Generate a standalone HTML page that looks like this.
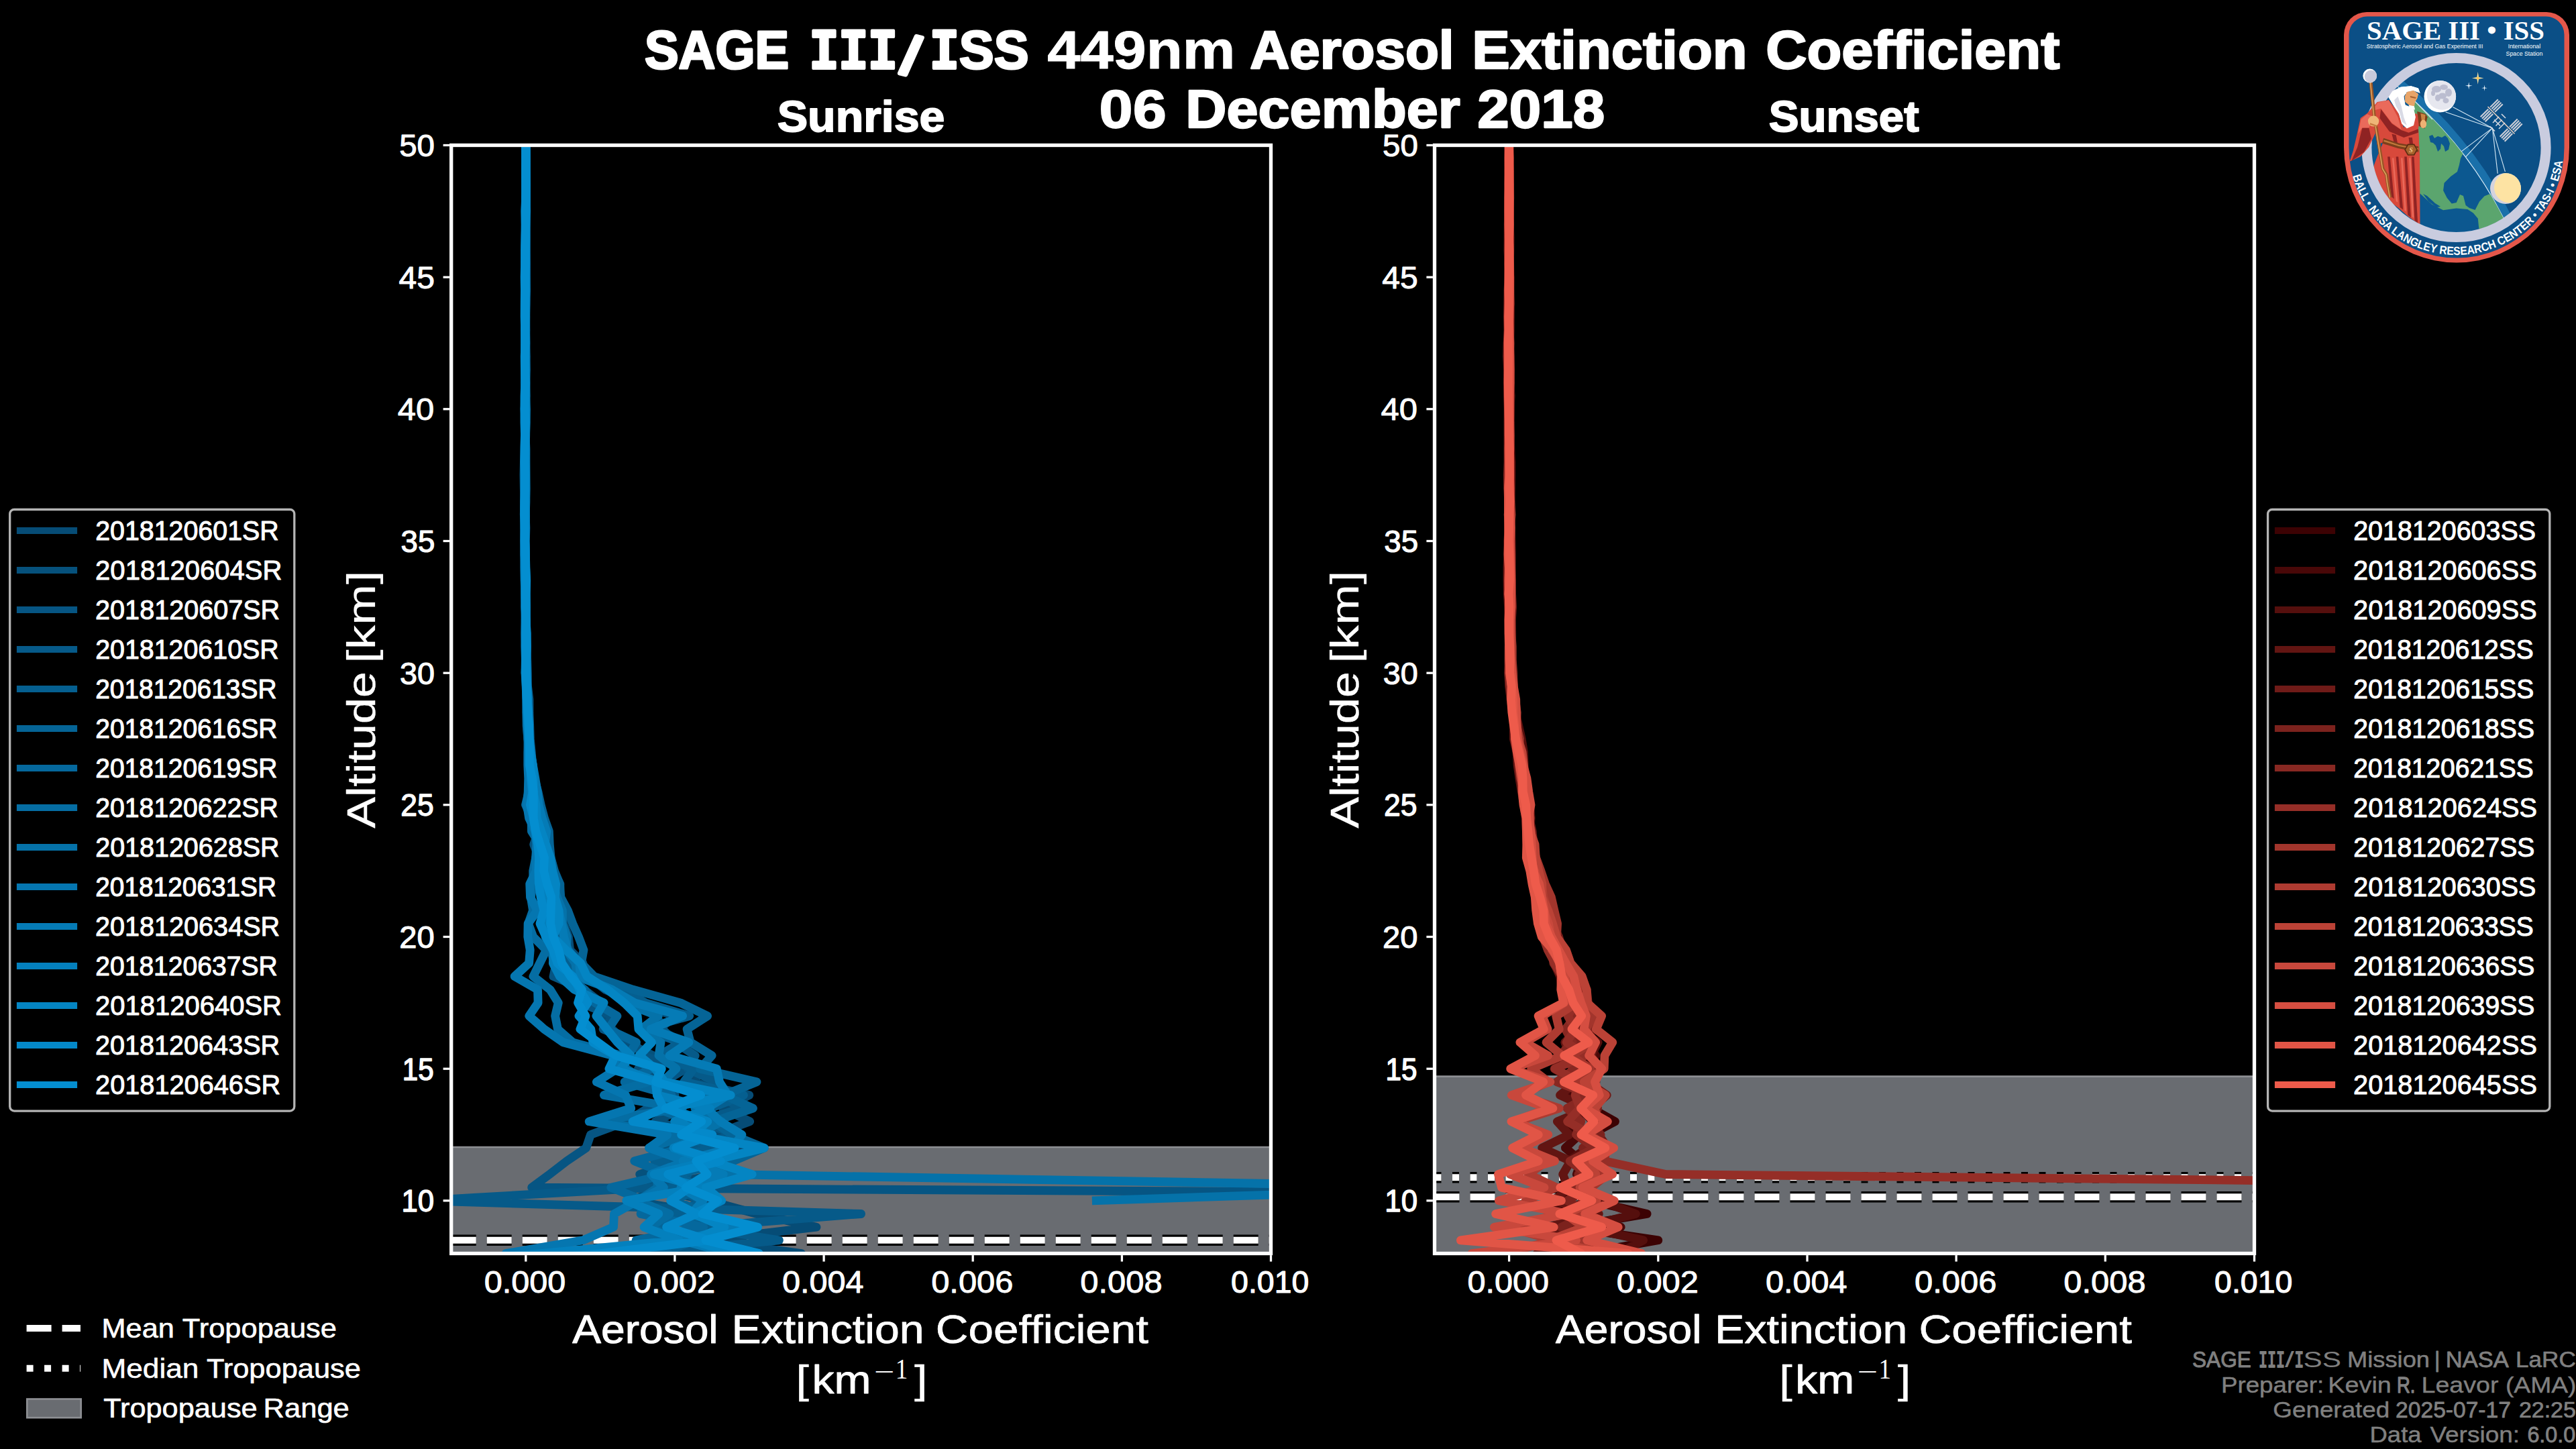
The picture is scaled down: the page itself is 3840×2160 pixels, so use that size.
<!DOCTYPE html>
<html lang="en"><head><meta charset="utf-8"><title>SAGE III/ISS 449nm Aerosol Extinction Coefficient</title>
<style>
html,body{margin:0;padding:0;background:#000;}
body{width:3840px;height:2160px;overflow:hidden;}
svg{display:block;position:absolute;left:0;top:0;}
text{font-family:"Liberation Sans",sans-serif;color:#fff;fill:currentColor;stroke:currentColor;stroke-linejoin:round;white-space:pre;}
#logo text{stroke-width:0;}
.b{font-weight:bold;}
.ft{color:#808080;}
.sf{font-family:"Liberation Serif","DejaVu Serif",serif;}
.mf{font-family:"Liberation Mono","DejaVu Sans Mono",monospace;}
.sp{stroke:#fff;stroke-width:5.33;fill:none;stroke-linecap:square;}
.tick{stroke:#fff;stroke-width:3.3;}
.dl{fill:none;stroke-width:12.8;stroke-linejoin:round;stroke-linecap:round;}
.de{stroke-linecap:butt;}
</style></head><body>
<svg width="3840" height="2160" viewBox="0 0 3840 2160">
<rect x="0" y="0" width="3840" height="2160" fill="#000"/>

<text font-size="80" class="b"><tspan x="961.0" textLength="215.0" lengthAdjust="spacingAndGlyphs" y="102.0" stroke-width="3.21">SAGE</tspan> <tspan x="1206.4" textLength="131.6" lengthAdjust="spacingAndGlyphs" y="102.0" font-size="85" class="mf" stroke-width="4.16">III</tspan><tspan x="1340.5" y="107.5" rotate="13.5" stroke-width="6.00">/</tspan><tspan x="1385.9" textLength="43.8" lengthAdjust="spacingAndGlyphs" y="102.0" font-size="85" class="mf" stroke-width="4.18">I</tspan><tspan x="1429.8" textLength="103.7" lengthAdjust="spacingAndGlyphs" y="102.0" stroke-width="3.03">SS</tspan> <tspan x="1561.3" textLength="280.1" lengthAdjust="spacingAndGlyphs" y="102.0" stroke-width="1.00">449nm</tspan> <tspan x="1863.2" textLength="304.4" lengthAdjust="spacingAndGlyphs" y="102.0" stroke-width="2.62">Aerosol</tspan> <tspan x="2194.2" textLength="410.5" lengthAdjust="spacingAndGlyphs" y="102.0" stroke-width="2.31">Extinction</tspan> <tspan x="2632.2" textLength="438.4" lengthAdjust="spacingAndGlyphs" y="102.0" stroke-width="2.32">Coefficient</tspan></text>
<text font-size="80" class="b"><tspan x="1638.6" textLength="100.2" lengthAdjust="spacingAndGlyphs" y="190.0" stroke-width="1.80">06</tspan> <tspan x="1767.3" textLength="409.4" lengthAdjust="spacingAndGlyphs" y="190.0" stroke-width="2.33">December</tspan> <tspan x="2202.3" textLength="189.8" lengthAdjust="spacingAndGlyphs" y="190.0" stroke-width="2.27">2018</tspan></text>
<text font-size="64" class="b"><tspan x="1158.7" textLength="249.7" lengthAdjust="spacingAndGlyphs" y="196.0" stroke-width="1.83">Sunrise</tspan></text>
<text font-size="64" class="b"><tspan x="2636.7" textLength="223.9" lengthAdjust="spacingAndGlyphs" y="196.0" stroke-width="1.92">Sunset</tspan></text>
<defs>
<clipPath id="clipL"><rect x="672.7" y="216.5" width="1221.8" height="1652.0"/></clipPath>
<clipPath id="clipR"><rect x="2138.5" y="216.5" width="1222.0" height="1652.0"/></clipPath>
</defs>
<g clip-path="url(#clipL)">
<rect x="672.7" y="1710.0" width="1221.8" height="163.5" fill="#696c71"/>
<line x1="672.7" x2="1894.5" y1="1710.0" y2="1710.0" stroke="#8e9094" stroke-width="2.6"/>
<line x1="672.7" x2="1934.5" y1="1848.8" y2="1848.8" stroke="#000" stroke-width="16.6" stroke-dasharray="37 16"/>
<line x1="672.7" x2="1934.5" y1="1848.8" y2="1848.8" stroke="#fff" stroke-width="10" stroke-dasharray="37 16"/>
<polyline class="dl" stroke="#064c76" points="783.3,216.5 783.5,236.2 783.7,255.8 783.8,275.5 783.6,295.2 783.7,314.8 783.5,334.5 783.8,354.2 784.2,373.8 784.5,393.5 784.3,413.2 784.4,432.8 784.2,452.5 783.5,472.2 783.8,491.8 783.1,511.5 783.1,531.2 782.9,550.8 782.3,570.5 783.0,590.2 783.0,609.8 783.1,629.5 782.7,649.2 782.8,668.8 783.0,688.5 783.2,708.2 783.0,727.8 782.6,747.5 782.9,767.2 782.3,786.8 782.7,806.5 783.0,826.2 782.9,845.8 782.6,865.5 783.7,885.2 783.8,904.8 783.1,924.5 782.9,944.2 783.3,963.8 783.6,983.5 783.3,1003.2 784.4,1022.8 785.2,1042.5 785.6,1062.2 785.5,1081.8 786.8,1101.5 789.3,1121.2 790.7,1140.8 792.0,1160.5 793.2,1180.2 796.0,1199.8 800.6,1219.5 808.4,1239.2 815.4,1258.8 821.1,1278.5 825.2,1298.2 835.0,1317.8 834.2,1337.5 844.0,1357.2 840.1,1376.8 847.4,1396.5 849.7,1416.2 869.0,1435.8 868.4,1455.5 923.5,1475.2 945.1,1494.8 1006.1,1514.5 982.5,1534.2 1017.1,1553.8 1000.2,1573.5 1054.5,1593.2 1029.1,1612.8 1116.8,1632.5 1077.4,1652.2 1117.7,1671.8 1065.2,1691.5 1104.6,1711.2 1009.3,1730.8 1070.4,1750.5 967.7,1770.2 1055.5,1789.8 1128.1,1809.5 1217.0,1829.2 1050.3,1848.8 1194.7,1868.5 946.0,1888.2"/>
<polyline class="dl" stroke="#06517c" points="784.5,216.5 784.5,236.2 784.5,255.8 784.2,275.5 784.2,295.2 783.9,314.8 783.5,334.5 783.8,354.2 784.5,373.8 784.5,393.5 783.7,413.2 783.2,432.8 783.5,452.5 783.4,472.2 783.2,491.8 782.9,511.5 783.0,531.2 783.7,550.8 783.2,570.5 783.1,590.2 783.1,609.8 783.3,629.5 783.2,649.2 782.9,668.8 782.5,688.5 782.8,708.2 783.0,727.8 783.3,747.5 782.8,767.2 782.4,786.8 781.9,806.5 782.8,826.2 783.4,845.8 784.0,865.5 783.9,885.2 784.2,904.8 784.5,924.5 784.3,944.2 784.2,963.8 784.8,983.5 785.6,1003.2 785.4,1022.8 786.0,1042.5 786.3,1062.2 786.4,1081.8 787.3,1101.5 788.9,1121.2 791.1,1140.8 792.9,1160.5 792.6,1180.2 794.1,1199.8 798.4,1219.5 803.5,1239.2 810.8,1258.8 811.7,1278.5 811.6,1298.2 812.0,1317.8 814.3,1337.5 817.9,1357.2 819.7,1376.8 827.1,1396.5 835.1,1416.2 829.4,1435.8 852.3,1455.5 870.4,1475.2 896.1,1494.8 895.2,1514.5 912.2,1534.2 933.4,1553.8 973.5,1573.5 951.4,1593.2 983.9,1612.8 994.6,1632.5 1017.4,1652.2 977.0,1671.8 1050.7,1691.5 973.9,1711.2 1013.3,1730.8 953.7,1750.5 984.9,1770.2 942.5,1789.8 1053.3,1809.5 983.5,1829.2 1054.8,1848.8 989.4,1868.5 1036.6,1888.2"/>
<polyline class="dl de" stroke="#065583" points="784.2,216.5 784.3,236.2 784.0,255.8 783.7,275.5 783.5,295.2 783.2,314.8 783.1,334.5 783.1,354.2 783.5,373.8 783.5,393.5 783.3,413.2 783.4,432.8 782.8,452.5 783.3,472.2 783.7,491.8 783.0,511.5 783.6,531.2 783.7,550.8 783.2,570.5 783.5,590.2 783.4,609.8 783.4,629.5 783.2,649.2 783.1,668.8 782.8,688.5 782.8,708.2 782.8,727.8 782.3,747.5 782.4,767.2 782.6,786.8 782.7,806.5 782.5,826.2 782.2,845.8 782.4,865.5 782.4,885.2 782.6,904.8 783.0,924.5 783.2,944.2 784.0,963.8 784.6,983.5 783.5,1003.2 784.3,1022.8 784.9,1042.5 785.4,1062.2 786.9,1081.8 787.6,1101.5 789.2,1121.2 789.7,1140.8 791.7,1160.5 794.0,1180.2 795.4,1199.8 796.4,1219.5 802.5,1239.2 795.7,1258.8 803.4,1278.5 806.6,1298.2 812.9,1317.8 811.8,1337.5 812.0,1357.2 817.0,1376.8 814.8,1396.5 826.2,1416.2 829.2,1435.8 825.0,1455.5 870.0,1475.2 865.2,1494.8 914.0,1514.5 899.1,1534.2 945.7,1553.8 957.3,1573.5 1022.3,1593.2 988.7,1612.8 1006.1,1632.5 965.8,1652.2 933.7,1671.8 880.4,1691.5 873.7,1711.2 844.9,1730.8 819.3,1750.5 792.7,1770.2 4116.0,1789.8"/>
<polyline class="dl" stroke="#065a89" points="783.4,216.5 783.4,236.2 783.5,255.8 783.7,275.5 783.9,295.2 784.3,314.8 784.4,334.5 784.2,354.2 784.2,373.8 784.5,393.5 784.1,413.2 783.8,432.8 784.0,452.5 783.6,472.2 783.7,491.8 784.1,511.5 784.0,531.2 784.4,550.8 783.3,570.5 783.1,590.2 782.7,609.8 782.8,629.5 782.4,649.2 782.2,668.8 782.7,688.5 783.3,708.2 783.2,727.8 783.5,747.5 783.2,767.2 783.9,786.8 783.4,806.5 783.6,826.2 783.6,845.8 784.1,865.5 783.4,885.2 783.8,904.8 784.1,924.5 783.9,944.2 784.9,963.8 785.7,983.5 786.3,1003.2 786.5,1022.8 788.9,1042.5 789.0,1062.2 789.7,1081.8 790.3,1101.5 792.2,1121.2 793.7,1140.8 795.2,1160.5 798.4,1180.2 801.9,1199.8 804.8,1219.5 811.6,1239.2 813.0,1258.8 814.9,1278.5 814.3,1298.2 821.4,1317.8 823.4,1337.5 826.9,1357.2 836.3,1376.8 838.1,1396.5 847.9,1416.2 857.8,1435.8 876.8,1455.5 902.4,1475.2 945.4,1494.8 978.9,1514.5 987.5,1534.2 1006.8,1553.8 1036.2,1573.5 1024.9,1593.2 1067.6,1612.8 1071.2,1632.5 1104.8,1652.2 1042.6,1671.8 1098.2,1691.5 1020.1,1711.2 1049.6,1730.8 1018.4,1750.5 972.6,1770.2 628.3,1789.8 1283.6,1809.5 1039.2,1829.2 1161.4,1848.8 961.5,1868.5 1076.6,1888.2"/>
<polyline class="dl" stroke="#055f90" points="783.7,216.5 783.5,236.2 784.1,255.8 783.9,275.5 783.4,295.2 783.3,314.8 783.4,334.5 783.2,354.2 782.7,373.8 782.7,393.5 783.2,413.2 783.7,432.8 783.4,452.5 783.3,472.2 783.6,491.8 783.2,511.5 783.0,531.2 782.9,550.8 783.3,570.5 783.4,590.2 783.4,609.8 783.2,629.5 783.0,649.2 783.5,668.8 783.1,688.5 783.4,708.2 783.3,727.8 783.1,747.5 783.4,767.2 782.8,786.8 782.8,806.5 782.6,826.2 782.1,845.8 782.1,865.5 782.8,885.2 783.2,904.8 783.3,924.5 782.5,944.2 782.8,963.8 783.5,983.5 784.0,1003.2 784.7,1022.8 785.9,1042.5 785.6,1062.2 786.5,1081.8 787.0,1101.5 790.7,1121.2 794.4,1140.8 795.4,1160.5 795.8,1180.2 799.4,1199.8 804.5,1219.5 810.2,1239.2 812.3,1258.8 815.2,1278.5 822.4,1298.2 823.3,1317.8 820.7,1337.5 825.2,1357.2 823.0,1376.8 826.8,1396.5 832.5,1416.2 848.2,1435.8 860.1,1455.5 928.4,1475.2 962.0,1494.8 1027.7,1514.5 957.1,1534.2 1015.1,1553.8 982.6,1573.5 1034.1,1593.2 1019.5,1612.8 1108.5,1632.5 1058.6,1652.2 1055.9,1671.8 1013.3,1691.5 1067.2,1711.2 975.9,1730.8 1025.1,1750.5 1001.1,1770.2 1047.5,1789.8 1007.2,1809.5 1079.0,1829.2 1013.6,1848.8 1099.4,1868.5 993.9,1888.2"/>
<polyline class="dl" stroke="#056496" points="783.7,216.5 783.5,236.2 783.8,255.8 783.7,275.5 784.2,295.2 784.8,314.8 784.1,334.5 784.0,354.2 783.4,373.8 783.5,393.5 784.0,413.2 784.3,432.8 783.7,452.5 783.6,472.2 783.6,491.8 783.2,511.5 783.8,531.2 783.3,550.8 783.3,570.5 783.1,590.2 782.2,609.8 782.8,629.5 782.5,649.2 782.1,668.8 781.4,688.5 781.0,708.2 781.3,727.8 781.8,747.5 781.3,767.2 782.5,786.8 781.9,806.5 782.2,826.2 783.1,845.8 783.5,865.5 783.2,885.2 783.4,904.8 783.6,924.5 783.8,944.2 783.6,963.8 784.6,983.5 784.4,1003.2 784.8,1022.8 785.6,1042.5 787.5,1062.2 789.1,1081.8 789.5,1101.5 790.8,1121.2 794.2,1140.8 796.6,1160.5 801.9,1180.2 806.2,1199.8 811.4,1219.5 818.4,1239.2 819.3,1258.8 821.1,1278.5 826.5,1298.2 834.5,1317.8 835.8,1337.5 846.4,1357.2 853.7,1376.8 862.5,1396.5 870.0,1416.2 866.5,1435.8 885.6,1455.5 943.8,1475.2 1014.2,1494.8 1054.6,1514.5 1024.1,1534.2 1029.2,1553.8 1061.2,1573.5 1043.5,1593.2 1128.0,1612.8 1079.2,1632.5 1122.5,1652.2 1063.2,1671.8 1091.0,1691.5 1139.2,1711.2 1092.8,1730.8 1006.1,1750.5 1042.4,1770.2 1006.0,1789.8 1053.2,1809.5 980.8,1829.2 1037.1,1848.8 983.7,1868.5 1046.9,1888.2"/>
<polyline class="dl" stroke="#05689d" points="784.3,216.5 783.9,236.2 783.5,255.8 783.4,275.5 783.8,295.2 783.8,314.8 783.8,334.5 783.0,354.2 782.8,373.8 782.6,393.5 782.9,413.2 782.8,432.8 782.7,452.5 783.1,472.2 783.5,491.8 783.5,511.5 784.0,531.2 783.8,550.8 783.8,570.5 783.1,590.2 782.2,609.8 782.8,629.5 782.9,649.2 782.7,668.8 782.5,688.5 782.3,708.2 782.6,727.8 782.4,747.5 782.6,767.2 782.4,786.8 782.6,806.5 782.8,826.2 783.3,845.8 783.9,865.5 783.8,885.2 783.9,904.8 784.4,924.5 784.9,944.2 784.7,963.8 784.5,983.5 784.1,1003.2 785.2,1022.8 785.2,1042.5 784.8,1062.2 785.1,1081.8 786.8,1101.5 787.5,1121.2 788.6,1140.8 788.7,1160.5 791.0,1180.2 791.7,1199.8 799.7,1219.5 804.1,1239.2 804.4,1258.8 806.2,1278.5 808.8,1298.2 815.1,1317.8 812.7,1337.5 822.3,1357.2 814.4,1376.8 819.8,1396.5 822.0,1416.2 825.7,1435.8 841.3,1455.5 871.5,1475.2 886.8,1494.8 920.0,1514.5 906.6,1534.2 948.5,1553.8 936.6,1573.5 970.9,1593.2 931.1,1612.8 1001.0,1632.5 978.8,1652.2 1030.8,1671.8 990.9,1691.5 1018.6,1711.2 945.8,1730.8 995.6,1750.5 910.8,1770.2 960.3,1789.8 955.1,1809.5 1048.7,1829.2 948.1,1848.8 996.7,1868.5 939.7,1888.2"/>
<polyline class="dl" stroke="#056da3" points="783.9,216.5 783.7,236.2 783.5,255.8 783.5,275.5 783.3,295.2 783.5,314.8 783.5,334.5 783.2,354.2 782.7,373.8 782.8,393.5 783.2,413.2 783.2,432.8 783.6,452.5 783.1,472.2 783.3,491.8 783.2,511.5 783.2,531.2 783.0,550.8 782.4,570.5 782.6,590.2 782.6,609.8 782.4,629.5 783.0,649.2 783.0,668.8 783.3,688.5 782.9,708.2 783.4,727.8 782.9,747.5 782.5,767.2 782.1,786.8 781.7,806.5 781.5,826.2 781.8,845.8 782.3,865.5 783.3,885.2 783.1,904.8 783.6,924.5 783.7,944.2 784.1,963.8 785.0,983.5 784.5,1003.2 785.4,1022.8 785.5,1042.5 787.3,1062.2 787.4,1081.8 787.5,1101.5 789.5,1121.2 788.1,1140.8 790.4,1160.5 788.2,1180.2 783.5,1199.8 792.1,1219.5 792.4,1239.2 804.8,1258.8 798.7,1278.5 794.7,1298.2 794.9,1317.8 791.3,1337.5 794.5,1357.2 787.5,1376.8 794.8,1396.5 814.4,1416.2 804.6,1435.8 794.9,1455.5 820.0,1475.2 832.3,1494.8 827.6,1514.5 831.5,1534.2 853.8,1553.8 926.1,1573.5 933.5,1593.2 966.2,1612.8 900.4,1632.5 1017.0,1652.2 883.7,1671.8 1028.1,1691.5 967.7,1711.2 1026.3,1730.8 978.5,1750.5 980.7,1770.2 951.1,1789.8 998.0,1809.5 969.2,1829.2 1008.7,1848.8 827.2,1868.5 893.4,1888.2"/>
<polyline class="dl de" stroke="#0572a9" points="783.5,216.5 783.6,236.2 783.4,255.8 783.5,275.5 783.8,295.2 784.0,314.8 783.5,334.5 783.7,354.2 783.7,373.8 783.6,393.5 783.7,413.2 783.6,432.8 783.2,452.5 783.2,472.2 783.0,491.8 782.8,511.5 783.3,531.2 783.7,550.8 784.0,570.5 784.2,590.2 783.7,609.8 784.0,629.5 783.5,649.2 783.3,668.8 783.2,688.5 783.6,708.2 784.0,727.8 783.9,747.5 783.3,767.2 783.0,786.8 782.6,806.5 783.0,826.2 782.6,845.8 782.9,865.5 783.1,885.2 783.9,904.8 783.7,924.5 784.0,944.2 784.6,963.8 784.6,983.5 785.3,1003.2 785.1,1022.8 786.2,1042.5 786.7,1062.2 787.9,1081.8 788.9,1101.5 791.3,1121.2 793.5,1140.8 795.2,1160.5 796.7,1180.2 797.9,1199.8 802.8,1219.5 808.2,1239.2 811.0,1258.8 814.0,1278.5 823.6,1298.2 824.4,1317.8 830.4,1337.5 838.4,1357.2 838.4,1376.8 845.3,1396.5 844.4,1416.2 857.7,1435.8 860.4,1455.5 912.3,1475.2 930.0,1494.8 981.2,1514.5 955.8,1534.2 985.0,1553.8 982.0,1573.5 1008.0,1593.2 987.3,1612.8 1061.3,1632.5 1036.0,1652.2 1075.6,1671.8 1038.3,1691.5 1087.3,1711.2 1043.9,1730.8 1079.2,1750.5 2227.7,1770.2 1627.9,1789.8"/>
<polyline class="dl" stroke="#0576b0" points="783.7,216.5 784.4,236.2 784.3,255.8 784.1,275.5 784.2,295.2 784.0,314.8 783.9,334.5 783.9,354.2 783.6,373.8 783.8,393.5 783.8,413.2 783.8,432.8 783.5,452.5 783.9,472.2 783.7,491.8 783.7,511.5 783.3,531.2 783.3,550.8 783.2,570.5 783.2,590.2 783.3,609.8 783.7,629.5 783.4,649.2 783.4,668.8 783.3,688.5 783.1,708.2 782.5,727.8 782.5,747.5 782.7,767.2 783.3,786.8 782.7,806.5 783.2,826.2 783.1,845.8 783.1,865.5 782.6,885.2 783.0,904.8 784.1,924.5 784.7,944.2 785.5,963.8 785.3,983.5 785.6,1003.2 785.6,1022.8 786.5,1042.5 787.0,1062.2 786.9,1081.8 787.5,1101.5 786.8,1121.2 786.8,1140.8 787.7,1160.5 787.2,1180.2 785.6,1199.8 788.6,1219.5 798.0,1239.2 799.9,1258.8 798.6,1278.5 799.2,1298.2 789.7,1317.8 790.5,1337.5 801.1,1357.2 787.1,1376.8 786.8,1396.5 790.2,1416.2 788.6,1435.8 767.1,1455.5 801.5,1475.2 802.1,1494.8 788.7,1514.5 811.3,1534.2 839.4,1553.8 913.4,1573.5 920.2,1593.2 889.3,1612.8 932.5,1632.5 940.7,1652.2 878.2,1671.8 994.8,1691.5 967.7,1711.2 1022.7,1730.8 970.6,1750.5 989.5,1770.2 950.5,1789.8 915.5,1809.5 914.5,1829.2 869.1,1848.8 754.0,1868.5 743.6,1888.2"/>
<polyline class="dl" stroke="#057bb6" points="783.9,216.5 783.6,236.2 783.6,255.8 783.7,275.5 783.6,295.2 782.8,314.8 783.2,334.5 783.0,354.2 782.6,373.8 782.7,393.5 783.0,413.2 782.8,432.8 783.4,452.5 783.1,472.2 782.8,491.8 783.1,511.5 782.9,531.2 783.2,550.8 783.4,570.5 783.7,590.2 783.2,609.8 783.3,629.5 783.2,649.2 783.9,668.8 783.9,688.5 784.0,708.2 783.9,727.8 783.5,747.5 782.9,767.2 782.5,786.8 782.5,806.5 782.1,826.2 783.1,845.8 783.1,865.5 783.7,885.2 784.3,904.8 783.8,924.5 784.8,944.2 784.1,963.8 784.0,983.5 784.2,1003.2 785.3,1022.8 786.1,1042.5 787.4,1062.2 788.5,1081.8 789.1,1101.5 791.2,1121.2 794.4,1140.8 797.9,1160.5 801.1,1180.2 803.1,1199.8 808.1,1219.5 814.8,1239.2 812.2,1258.8 815.0,1278.5 823.1,1298.2 825.1,1317.8 824.8,1337.5 833.1,1357.2 837.0,1376.8 840.6,1396.5 846.3,1416.2 863.8,1435.8 864.9,1455.5 912.4,1475.2 945.9,1494.8 1017.6,1514.5 970.0,1534.2 1026.9,1553.8 997.9,1573.5 1068.3,1593.2 1072.6,1612.8 1085.0,1632.5 1053.3,1652.2 1073.8,1671.8 1105.9,1691.5 1091.3,1711.2 1017.9,1730.8 1078.3,1750.5 1015.0,1770.2 1047.9,1789.8 1030.6,1809.5 1097.0,1829.2 1015.8,1848.8 1086.7,1868.5 1006.2,1888.2"/>
<polyline class="dl" stroke="#0480bd" points="783.5,216.5 783.6,236.2 783.6,255.8 783.5,275.5 783.5,295.2 783.3,314.8 783.5,334.5 783.6,354.2 783.4,373.8 783.4,393.5 782.8,413.2 783.1,432.8 783.6,452.5 783.3,472.2 783.4,491.8 783.3,511.5 782.8,531.2 782.9,550.8 783.2,570.5 783.5,590.2 784.4,609.8 784.0,629.5 783.7,649.2 783.3,668.8 783.2,688.5 783.3,708.2 783.3,727.8 783.1,747.5 783.2,767.2 782.8,786.8 782.9,806.5 783.3,826.2 783.2,845.8 783.7,865.5 783.8,885.2 784.3,904.8 783.3,924.5 783.8,944.2 783.2,963.8 783.3,983.5 783.0,1003.2 784.1,1022.8 784.9,1042.5 785.2,1062.2 786.7,1081.8 788.3,1101.5 789.1,1121.2 791.5,1140.8 791.5,1160.5 793.2,1180.2 794.2,1199.8 796.2,1219.5 802.1,1239.2 808.1,1258.8 804.8,1278.5 807.5,1298.2 806.4,1317.8 808.5,1337.5 812.4,1357.2 816.1,1376.8 813.1,1396.5 825.7,1416.2 824.3,1435.8 834.4,1455.5 856.3,1475.2 900.1,1494.8 888.9,1514.5 904.6,1534.2 920.4,1553.8 940.4,1573.5 925.1,1593.2 982.4,1612.8 979.5,1632.5 1058.6,1652.2 1005.6,1671.8 1059.6,1691.5 1004.0,1711.2 1058.0,1730.8 975.0,1750.5 1046.6,1770.2 933.8,1789.8 981.8,1809.5 960.1,1829.2 1012.1,1848.8 806.0,1868.5 561.6,1888.2"/>
<polyline class="dl" stroke="#0485c3" points="784.2,216.5 783.7,236.2 783.8,255.8 783.9,275.5 783.7,295.2 783.9,314.8 783.7,334.5 783.4,354.2 783.1,373.8 783.3,393.5 783.7,413.2 783.9,432.8 783.3,452.5 783.1,472.2 782.8,491.8 783.0,511.5 782.9,531.2 783.0,550.8 783.3,570.5 783.5,590.2 783.2,609.8 783.1,629.5 782.5,649.2 782.5,668.8 782.6,688.5 782.3,708.2 782.2,727.8 783.0,747.5 782.5,767.2 782.2,786.8 781.9,806.5 782.4,826.2 782.4,845.8 782.4,865.5 783.0,885.2 783.6,904.8 784.0,924.5 783.9,944.2 784.1,963.8 783.7,983.5 783.2,1003.2 785.0,1022.8 785.7,1042.5 786.5,1062.2 787.9,1081.8 788.8,1101.5 790.7,1121.2 794.1,1140.8 795.4,1160.5 794.7,1180.2 799.1,1199.8 800.2,1219.5 806.9,1239.2 813.7,1258.8 820.4,1278.5 823.5,1298.2 828.7,1317.8 827.3,1337.5 833.1,1357.2 833.4,1376.8 824.1,1396.5 843.9,1416.2 865.6,1435.8 874.9,1455.5 905.8,1475.2 930.4,1494.8 950.2,1514.5 951.9,1534.2 971.6,1553.8 952.9,1573.5 976.7,1593.2 990.7,1612.8 1089.2,1632.5 995.3,1652.2 1054.9,1671.8 1031.9,1691.5 1139.2,1711.2 1059.9,1730.8 1121.2,1750.5 1052.3,1770.2 1075.7,1789.8 1034.1,1809.5 1079.9,1829.2 1031.8,1848.8 1092.8,1868.5 988.2,1888.2"/>
<polyline class="dl" stroke="#0489ca" points="783.7,216.5 784.0,236.2 784.2,255.8 784.4,275.5 784.2,295.2 784.0,314.8 783.6,334.5 783.6,354.2 782.8,373.8 782.5,393.5 782.1,413.2 782.4,432.8 782.2,452.5 782.1,472.2 782.6,491.8 782.8,511.5 782.6,531.2 782.7,550.8 782.7,570.5 782.0,590.2 781.9,609.8 781.9,629.5 782.5,649.2 783.0,668.8 782.7,688.5 783.3,708.2 782.9,727.8 782.8,747.5 783.1,767.2 783.4,786.8 782.7,806.5 783.4,826.2 783.9,845.8 784.7,865.5 784.2,885.2 783.9,904.8 784.1,924.5 785.2,944.2 785.3,963.8 784.0,983.5 784.7,1003.2 785.9,1022.8 786.6,1042.5 787.2,1062.2 787.9,1081.8 788.9,1101.5 790.5,1121.2 790.3,1140.8 791.7,1160.5 793.9,1180.2 790.4,1199.8 795.4,1219.5 798.1,1239.2 801.8,1258.8 803.5,1278.5 802.8,1298.2 803.4,1317.8 806.0,1337.5 810.8,1357.2 805.0,1376.8 813.9,1396.5 824.0,1416.2 831.0,1435.8 853.8,1455.5 864.0,1475.2 876.1,1494.8 863.0,1514.5 880.8,1534.2 883.9,1553.8 917.4,1573.5 907.9,1593.2 976.9,1612.8 979.4,1632.5 989.5,1652.2 943.1,1671.8 1061.8,1691.5 1007.9,1711.2 1074.4,1730.8 995.7,1750.5 1028.1,1770.2 999.7,1789.8 1038.1,1809.5 993.6,1829.2 1057.3,1848.8 894.8,1868.5 672.7,1888.2"/>
<polyline class="dl" stroke="#048ed0" points="783.8,216.5 783.9,236.2 783.6,255.8 783.8,275.5 783.8,295.2 783.6,314.8 783.5,334.5 783.5,354.2 783.3,373.8 783.3,393.5 782.7,413.2 782.6,432.8 782.6,452.5 782.7,472.2 782.5,491.8 782.9,511.5 782.2,531.2 782.4,550.8 783.3,570.5 782.5,590.2 782.3,609.8 783.3,629.5 782.4,649.2 782.0,668.8 781.8,688.5 782.3,708.2 782.4,727.8 781.6,747.5 781.6,767.2 781.8,786.8 782.5,806.5 783.0,826.2 783.6,845.8 784.0,865.5 783.7,885.2 783.2,904.8 783.8,924.5 783.8,944.2 783.6,963.8 783.9,983.5 784.0,1003.2 784.5,1022.8 785.3,1042.5 787.1,1062.2 788.5,1081.8 789.0,1101.5 789.3,1121.2 789.3,1140.8 793.3,1160.5 795.4,1180.2 795.4,1199.8 795.2,1219.5 798.7,1239.2 805.0,1258.8 811.6,1278.5 810.6,1298.2 815.5,1317.8 821.8,1337.5 821.2,1357.2 820.6,1376.8 824.6,1396.5 832.9,1416.2 837.6,1435.8 850.5,1455.5 867.4,1475.2 861.5,1494.8 872.9,1514.5 864.9,1534.2 891.5,1553.8 918.1,1573.5 986.3,1593.2 977.5,1612.8 1044.6,1632.5 992.3,1652.2 1045.8,1671.8 1015.6,1691.5 1095.1,1711.2 1037.8,1730.8 1054.2,1750.5 1022.5,1770.2 1069.9,1789.8 1047.0,1809.5 1129.6,1829.2 1051.8,1848.8 1131.5,1868.5 1025.3,1888.2"/>
</g>
<rect class="sp" x="672.7" y="216.5" width="1221.8" height="1652.0"/>
<line class="tick" x1="660.6" x2="670.1" y1="216.5" y2="216.5"/>
<text font-size="46.67"><tspan x="595.2" textLength="52.8" lengthAdjust="spacingAndGlyphs" y="233.1" stroke-width="1.04">50</tspan></text>
<line class="tick" x1="660.6" x2="670.1" y1="413.2" y2="413.2"/>
<text font-size="46.67"><tspan x="594.5" textLength="53.5" lengthAdjust="spacingAndGlyphs" y="429.8" stroke-width="0.98">45</tspan></text>
<line class="tick" x1="660.6" x2="670.1" y1="609.8" y2="609.8"/>
<text font-size="46.67"><tspan x="592.7" textLength="54.5" lengthAdjust="spacingAndGlyphs" y="626.4" stroke-width="0.89">40</tspan></text>
<line class="tick" x1="660.6" x2="670.1" y1="806.5" y2="806.5"/>
<text font-size="46.67"><tspan x="597.5" textLength="50.8" lengthAdjust="spacingAndGlyphs" y="823.1" stroke-width="1.22">35</tspan></text>
<line class="tick" x1="660.6" x2="670.1" y1="1003.2" y2="1003.2"/>
<text font-size="46.67"><tspan x="595.9" textLength="52.0" lengthAdjust="spacingAndGlyphs" y="1019.8" stroke-width="1.11">30</tspan></text>
<line class="tick" x1="660.6" x2="670.1" y1="1199.8" y2="1199.8"/>
<text font-size="46.67"><tspan x="597.3" textLength="49.5" lengthAdjust="spacingAndGlyphs" y="1216.4" stroke-width="1.34">25</tspan></text>
<line class="tick" x1="660.6" x2="670.1" y1="1396.5" y2="1396.5"/>
<text font-size="46.67"><tspan x="595.2" textLength="52.4" lengthAdjust="spacingAndGlyphs" y="1413.1" stroke-width="1.08">20</tspan></text>
<line class="tick" x1="660.6" x2="670.1" y1="1593.2" y2="1593.2"/>
<text font-size="46.67"><tspan x="599.8" textLength="46.9" lengthAdjust="spacingAndGlyphs" y="1609.8" stroke-width="1.57">15</tspan></text>
<line class="tick" x1="660.6" x2="670.1" y1="1789.8" y2="1789.8"/>
<text font-size="46.67"><tspan x="598.5" textLength="48.7" lengthAdjust="spacingAndGlyphs" y="1806.4" stroke-width="1.41">10</tspan></text>
<line class="tick" x1="783.8" x2="783.8" y1="1871.1" y2="1880.6"/>
<text font-size="46.67"><tspan x="721.8" textLength="121.5" lengthAdjust="spacingAndGlyphs" y="1926.6" stroke-width="0.93">0.000</tspan></text>
<line class="tick" x1="1005.9" x2="1005.9" y1="1871.1" y2="1880.6"/>
<text font-size="46.67"><tspan x="943.9" textLength="122.3" lengthAdjust="spacingAndGlyphs" y="1926.6" stroke-width="0.90">0.002</tspan></text>
<line class="tick" x1="1228.1" x2="1228.1" y1="1871.1" y2="1880.6"/>
<text font-size="46.67"><tspan x="1166.0" textLength="121.5" lengthAdjust="spacingAndGlyphs" y="1926.6" stroke-width="0.93">0.004</tspan></text>
<line class="tick" x1="1450.2" x2="1450.2" y1="1871.1" y2="1880.6"/>
<text font-size="46.67"><tspan x="1388.2" textLength="122.3" lengthAdjust="spacingAndGlyphs" y="1926.6" stroke-width="0.90">0.006</tspan></text>
<line class="tick" x1="1672.4" x2="1672.4" y1="1871.1" y2="1880.6"/>
<text font-size="46.67"><tspan x="1610.3" textLength="122.3" lengthAdjust="spacingAndGlyphs" y="1926.6" stroke-width="0.90">0.008</tspan></text>
<line class="tick" x1="1894.5" x2="1894.5" y1="1871.1" y2="1880.6"/>
<text font-size="46.67"><tspan x="1835.1" textLength="116.2" lengthAdjust="spacingAndGlyphs" y="1926.6" stroke-width="1.14">0.010</tspan></text>
<text font-size="60"><tspan x="853.3" textLength="217.3" lengthAdjust="spacingAndGlyphs" y="2002.2" stroke-width="1.03">Aerosol</tspan> <tspan x="1090.5" textLength="287.1" lengthAdjust="spacingAndGlyphs" y="2002.2" stroke-width="0.82">Extinction</tspan> <tspan x="1394.8" textLength="317.3" lengthAdjust="spacingAndGlyphs" y="2002.2" stroke-width="0.70">Coefficient</tspan></text>
<text font-size="60"><tspan x="1186.2" textLength="19.7" lengthAdjust="spacingAndGlyphs" y="2076.7" stroke-width="0.35">[</tspan><tspan x="1210.5" textLength="87.9" lengthAdjust="spacingAndGlyphs" y="2076.7" stroke-width="0.84">km</tspan><tspan x="1303.0" textLength="30.4" lengthAdjust="spacingAndGlyphs" y="2058.7" font-size="42" class="sf" stroke-width="0.00">−</tspan><tspan x="1334.8" textLength="18.5" lengthAdjust="spacingAndGlyphs" y="2055.0" font-size="42" class="sf" stroke-width="0.00">1</tspan><tspan x="1363.0" textLength="19.7" lengthAdjust="spacingAndGlyphs" y="2076.7" stroke-width="0.35">]</tspan></text>
<text font-size="60" transform="translate(559.0,1234.8) rotate(-90)"><tspan x="0.0" textLength="233.8" lengthAdjust="spacingAndGlyphs" y="0.0" stroke-width="0.43">Altitude</tspan> <tspan x="246.2" textLength="137.9" lengthAdjust="spacingAndGlyphs" y="0.0" stroke-width="0.14">[km]</tspan></text>
<g clip-path="url(#clipR)">
<rect x="2138.5" y="1604.6" width="1222.0" height="268.9" fill="#696c71"/>
<line x1="2138.5" x2="3360.5" y1="1604.6" y2="1604.6" stroke="#8e9094" stroke-width="2.6"/>
<line x1="2138.5" x2="3400.5" y1="1784.3" y2="1784.3" stroke="#000" stroke-width="16.6" stroke-dasharray="37 16"/>
<line x1="2138.5" x2="3400.5" y1="1784.3" y2="1784.3" stroke="#fff" stroke-width="10" stroke-dasharray="37 16"/>
<line x1="2138.5" x2="3400.5" y1="1755.2" y2="1755.2" stroke="#000" stroke-width="16.6" stroke-dasharray="10 16.5"/>
<line x1="2138.5" x2="3400.5" y1="1755.2" y2="1755.2" stroke="#fff" stroke-width="10" stroke-dasharray="10 16.5"/>
<polyline class="dl" stroke="#3c0203" points="2249.1,216.5 2249.9,236.2 2250.1,255.8 2250.0,275.5 2249.8,295.2 2250.0,314.8 2249.7,334.5 2250.1,354.2 2250.1,373.8 2250.6,393.5 2251.4,413.2 2250.8,432.8 2250.3,452.5 2250.3,472.2 2249.7,491.8 2250.4,511.5 2249.7,531.2 2250.2,550.8 2250.3,570.5 2251.5,590.2 2251.6,609.8 2251.0,629.5 2250.9,649.2 2252.2,668.8 2253.2,688.5 2253.0,708.2 2252.6,727.8 2252.1,747.5 2252.2,767.2 2251.7,786.8 2249.7,806.5 2248.5,826.2 2249.0,845.8 2249.9,865.5 2250.3,885.2 2250.2,904.8 2250.5,924.5 2249.7,944.2 2250.6,963.8 2252.7,983.5 2253.0,1003.2 2255.7,1022.8 2257.5,1042.5 2260.7,1062.2 2261.9,1081.8 2264.2,1101.5 2264.8,1121.2 2269.8,1140.8 2273.5,1160.5 2274.9,1180.2 2277.7,1199.8 2278.2,1219.5 2282.4,1239.2 2284.3,1258.8 2286.1,1278.5 2292.0,1298.2 2297.4,1317.8 2300.3,1337.5 2304.6,1357.2 2311.6,1376.8 2315.6,1396.5 2326.0,1416.2 2333.6,1435.8 2349.0,1455.5 2355.1,1475.2 2357.3,1494.8 2366.8,1514.5 2355.0,1534.2 2367.5,1553.8 2343.0,1573.5 2385.6,1593.2 2353.5,1612.8 2394.2,1632.5 2372.2,1652.2 2407.5,1671.8 2370.1,1691.5 2384.0,1711.2 2364.2,1730.8 2364.6,1750.5 2360.3,1770.2 2369.5,1789.8 2455.1,1809.5 2338.5,1829.2 2471.8,1848.8 2360.7,1868.5 2258.8,1888.2"/>
<polyline class="dl" stroke="#490808" points="2249.7,216.5 2249.5,236.2 2249.3,255.8 2249.5,275.5 2249.3,295.2 2249.1,314.8 2249.9,334.5 2249.7,354.2 2250.1,373.8 2249.7,393.5 2249.6,413.2 2250.2,432.8 2251.6,452.5 2251.4,472.2 2251.0,491.8 2250.4,511.5 2250.8,531.2 2251.2,550.8 2251.1,570.5 2250.8,590.2 2250.2,609.8 2249.6,629.5 2250.0,649.2 2250.4,668.8 2250.2,688.5 2248.7,708.2 2250.1,727.8 2249.8,747.5 2249.8,767.2 2250.4,786.8 2250.2,806.5 2249.2,826.2 2250.4,845.8 2249.9,865.5 2249.4,885.2 2249.3,904.8 2249.0,924.5 2250.6,944.2 2251.3,963.8 2249.9,983.5 2250.8,1003.2 2253.9,1022.8 2255.1,1042.5 2258.3,1062.2 2259.7,1081.8 2261.1,1101.5 2265.3,1121.2 2266.1,1140.8 2267.2,1160.5 2272.6,1180.2 2276.1,1199.8 2280.4,1219.5 2283.6,1239.2 2285.0,1258.8 2286.2,1278.5 2292.7,1298.2 2293.3,1317.8 2299.4,1337.5 2305.0,1357.2 2309.7,1376.8 2315.2,1396.5 2324.9,1416.2 2328.9,1435.8 2336.4,1455.5 2341.4,1475.2 2351.8,1494.8 2354.2,1514.5 2375.0,1534.2 2363.5,1553.8 2378.9,1573.5 2348.1,1593.2 2362.8,1612.8 2342.3,1632.5 2372.2,1652.2 2336.2,1671.8 2354.4,1691.5 2333.4,1711.2 2357.0,1730.8 2350.3,1750.5 2370.4,1770.2 2307.8,1789.8 2355.8,1809.5 2416.2,1829.2 2349.6,1848.8 2427.3,1868.5 2399.9,1888.2"/>
<polyline class="dl" stroke="#550f0d" points="2249.3,216.5 2249.1,236.2 2249.0,255.8 2249.2,275.5 2249.4,295.2 2249.6,314.8 2250.1,334.5 2250.0,354.2 2250.2,373.8 2250.0,393.5 2250.8,413.2 2250.5,432.8 2250.3,452.5 2250.7,472.2 2250.0,491.8 2249.9,511.5 2250.0,531.2 2250.0,550.8 2249.7,570.5 2249.8,590.2 2249.3,609.8 2249.2,629.5 2249.6,649.2 2250.3,668.8 2249.9,688.5 2249.3,708.2 2249.4,727.8 2249.6,747.5 2249.8,767.2 2250.2,786.8 2250.6,806.5 2251.0,826.2 2252.4,845.8 2251.4,865.5 2251.3,885.2 2250.3,904.8 2249.4,924.5 2249.8,944.2 2250.6,963.8 2252.4,983.5 2253.2,1003.2 2255.1,1022.8 2257.7,1042.5 2259.2,1062.2 2263.8,1081.8 2268.2,1101.5 2271.5,1121.2 2272.2,1140.8 2274.0,1160.5 2275.8,1180.2 2280.6,1199.8 2282.2,1219.5 2280.9,1239.2 2280.7,1258.8 2286.2,1278.5 2290.0,1298.2 2296.2,1317.8 2300.1,1337.5 2301.9,1357.2 2308.3,1376.8 2311.5,1396.5 2318.1,1416.2 2328.3,1435.8 2336.6,1455.5 2349.3,1475.2 2357.2,1494.8 2366.2,1514.5 2354.6,1534.2 2382.0,1553.8 2371.9,1573.5 2384.9,1593.2 2355.1,1612.8 2379.0,1632.5 2355.4,1652.2 2374.5,1671.8 2362.9,1691.5 2366.8,1711.2 2337.5,1730.8 2371.6,1750.5 2354.1,1770.2 2384.2,1789.8 2438.4,1809.5 2360.7,1829.2 2449.6,1848.8 2412.9,1868.5 2347.7,1888.2"/>
<polyline class="dl" stroke="#621512" points="2249.5,216.5 2249.6,236.2 2249.9,255.8 2249.9,275.5 2250.3,295.2 2250.3,314.8 2250.2,334.5 2251.1,354.2 2250.8,373.8 2250.4,393.5 2249.4,413.2 2249.3,432.8 2249.7,452.5 2249.6,472.2 2249.4,491.8 2248.7,511.5 2248.8,531.2 2249.4,550.8 2249.3,570.5 2249.8,590.2 2250.1,609.8 2249.4,629.5 2250.2,649.2 2250.2,668.8 2248.7,688.5 2249.8,708.2 2250.0,727.8 2249.7,747.5 2250.0,767.2 2249.2,786.8 2247.8,806.5 2247.8,826.2 2247.0,845.8 2247.0,865.5 2247.3,885.2 2248.5,904.8 2248.9,924.5 2249.1,944.2 2251.0,963.8 2249.9,983.5 2248.8,1003.2 2249.6,1022.8 2252.0,1042.5 2255.1,1062.2 2256.4,1081.8 2256.4,1101.5 2261.0,1121.2 2262.1,1140.8 2265.0,1160.5 2268.2,1180.2 2271.8,1199.8 2274.4,1219.5 2275.3,1239.2 2280.7,1258.8 2283.4,1278.5 2285.0,1298.2 2289.2,1317.8 2295.8,1337.5 2300.5,1357.2 2299.8,1376.8 2306.6,1396.5 2312.7,1416.2 2316.6,1435.8 2325.7,1455.5 2328.2,1475.2 2335.2,1494.8 2339.1,1514.5 2352.7,1534.2 2332.8,1553.8 2339.9,1573.5 2316.9,1593.2 2350.1,1612.8 2325.5,1632.5 2368.2,1652.2 2321.4,1671.8 2339.2,1691.5 2298.7,1711.2 2341.2,1730.8 2329.7,1750.5 2337.0,1770.2 2317.6,1789.8 2383.3,1809.5 2306.5,1829.2 2371.5,1848.8 2291.3,1868.5 2333.9,1888.2"/>
<polyline class="dl" stroke="#6f1b18" points="2249.5,216.5 2249.8,236.2 2249.9,255.8 2250.1,275.5 2250.0,295.2 2249.4,314.8 2249.6,334.5 2250.1,354.2 2249.5,373.8 2250.0,393.5 2250.1,413.2 2250.7,432.8 2250.9,452.5 2251.0,472.2 2251.0,491.8 2250.7,511.5 2250.2,531.2 2250.5,550.8 2250.9,570.5 2252.1,590.2 2251.2,609.8 2251.1,629.5 2251.5,649.2 2250.7,668.8 2252.0,688.5 2252.3,708.2 2252.3,727.8 2251.8,747.5 2252.0,767.2 2252.4,786.8 2253.1,806.5 2253.4,826.2 2253.2,845.8 2253.6,865.5 2253.6,885.2 2254.7,904.8 2253.4,924.5 2253.7,944.2 2253.6,963.8 2253.8,983.5 2254.8,1003.2 2256.4,1022.8 2257.0,1042.5 2259.3,1062.2 2259.6,1081.8 2261.1,1101.5 2263.9,1121.2 2265.6,1140.8 2272.3,1160.5 2277.2,1180.2 2275.6,1199.8 2279.4,1219.5 2284.2,1239.2 2286.0,1258.8 2288.0,1278.5 2295.9,1298.2 2300.7,1317.8 2304.6,1337.5 2312.0,1357.2 2313.5,1376.8 2323.7,1396.5 2329.1,1416.2 2339.9,1435.8 2350.3,1455.5 2355.0,1475.2 2366.5,1494.8 2366.9,1514.5 2355.3,1534.2 2376.6,1553.8 2371.6,1573.5 2383.7,1593.2 2366.5,1612.8 2395.3,1632.5 2371.9,1652.2 2381.5,1671.8 2382.9,1691.5 2396.6,1711.2 2368.5,1730.8 2379.9,1750.5 2333.6,1770.2 2372.5,1789.8 2355.4,1809.5 2371.3,1829.2 2308.0,1848.8 2385.3,1868.5 2326.1,1888.2"/>
<polyline class="dl" stroke="#7c221d" points="2249.6,216.5 2249.8,236.2 2249.8,255.8 2250.0,275.5 2249.8,295.2 2250.1,314.8 2250.1,334.5 2250.0,354.2 2250.1,373.8 2249.8,393.5 2249.8,413.2 2250.4,432.8 2250.1,452.5 2250.5,472.2 2250.1,491.8 2250.2,511.5 2251.2,531.2 2250.5,550.8 2249.7,570.5 2250.3,590.2 2249.9,609.8 2250.0,629.5 2250.2,649.2 2250.5,668.8 2250.4,688.5 2250.9,708.2 2250.6,727.8 2250.9,747.5 2250.9,767.2 2251.1,786.8 2251.0,806.5 2250.6,826.2 2249.9,845.8 2248.3,865.5 2249.4,885.2 2249.0,904.8 2250.1,924.5 2250.0,944.2 2250.7,963.8 2250.7,983.5 2252.2,1003.2 2254.8,1022.8 2257.2,1042.5 2258.5,1062.2 2261.2,1081.8 2264.4,1101.5 2267.4,1121.2 2270.3,1140.8 2271.4,1160.5 2273.9,1180.2 2276.9,1199.8 2277.8,1219.5 2278.3,1239.2 2283.1,1258.8 2287.2,1278.5 2291.3,1298.2 2297.2,1317.8 2301.9,1337.5 2304.9,1357.2 2310.3,1376.8 2310.5,1396.5 2321.0,1416.2 2333.7,1435.8 2337.6,1455.5 2343.4,1475.2 2352.6,1494.8 2357.6,1514.5 2370.0,1534.2 2345.7,1553.8 2359.2,1573.5 2350.7,1593.2 2379.1,1612.8 2349.4,1632.5 2381.7,1652.2 2372.8,1671.8 2386.1,1691.5 2359.5,1711.2 2374.1,1730.8 2352.8,1750.5 2370.2,1770.2 2335.9,1789.8 2369.9,1809.5 2327.4,1829.2 2377.1,1848.8 2346.5,1868.5 2373.1,1888.2"/>
<polyline class="dl" stroke="#882822" points="2249.4,216.5 2248.5,236.2 2248.8,255.8 2249.2,275.5 2248.6,295.2 2248.6,314.8 2248.3,334.5 2248.2,354.2 2248.1,373.8 2248.8,393.5 2248.8,413.2 2248.1,432.8 2247.9,452.5 2247.6,472.2 2248.0,491.8 2247.1,511.5 2246.7,531.2 2247.5,550.8 2247.4,570.5 2247.7,590.2 2248.2,609.8 2248.1,629.5 2248.1,649.2 2248.1,668.8 2248.1,688.5 2247.5,708.2 2247.8,727.8 2248.7,747.5 2250.1,767.2 2249.8,786.8 2250.9,806.5 2251.5,826.2 2250.4,845.8 2249.0,865.5 2249.5,885.2 2249.6,904.8 2250.3,924.5 2251.2,944.2 2249.2,963.8 2249.0,983.5 2248.8,1003.2 2250.7,1022.8 2253.2,1042.5 2255.7,1062.2 2257.0,1081.8 2258.6,1101.5 2263.6,1121.2 2266.9,1140.8 2268.7,1160.5 2273.8,1180.2 2272.4,1199.8 2275.2,1219.5 2277.0,1239.2 2277.9,1258.8 2280.8,1278.5 2284.4,1298.2 2290.9,1317.8 2296.5,1337.5 2299.3,1357.2 2304.4,1376.8 2312.4,1396.5 2314.0,1416.2 2315.9,1435.8 2329.6,1455.5 2340.2,1475.2 2345.3,1494.8 2348.8,1514.5 2333.6,1534.2 2344.1,1553.8 2325.2,1573.5 2347.9,1593.2 2320.9,1612.8 2371.4,1632.5 2336.1,1652.2 2356.7,1671.8 2349.6,1691.5 2377.6,1711.2 2340.2,1730.8 2365.9,1750.5 2340.7,1770.2 2362.8,1789.8 2336.7,1809.5 2356.8,1829.2 2319.9,1848.8 2337.1,1868.5 2319.1,1888.2"/>
<polyline class="dl de" stroke="#952e27" points="2248.8,216.5 2249.0,236.2 2249.3,255.8 2250.2,275.5 2249.9,295.2 2249.9,314.8 2249.6,334.5 2249.7,354.2 2249.1,373.8 2249.4,393.5 2249.9,413.2 2248.8,432.8 2249.0,452.5 2249.4,472.2 2249.6,491.8 2249.7,511.5 2249.0,531.2 2249.1,550.8 2248.8,570.5 2249.6,590.2 2249.9,609.8 2250.3,629.5 2250.0,649.2 2250.2,668.8 2250.9,688.5 2250.8,708.2 2250.6,727.8 2249.3,747.5 2249.8,767.2 2249.8,786.8 2251.2,806.5 2250.6,826.2 2250.8,845.8 2250.6,865.5 2251.3,885.2 2251.4,904.8 2251.5,924.5 2252.0,944.2 2251.5,963.8 2252.5,983.5 2253.1,1003.2 2255.1,1022.8 2255.4,1042.5 2256.8,1062.2 2258.2,1081.8 2260.8,1101.5 2266.1,1121.2 2269.2,1140.8 2273.3,1160.5 2276.5,1180.2 2276.7,1199.8 2276.7,1219.5 2275.6,1239.2 2276.2,1258.8 2278.0,1278.5 2286.6,1298.2 2290.9,1317.8 2291.6,1337.5 2293.6,1357.2 2297.7,1376.8 2300.2,1396.5 2307.4,1416.2 2317.7,1435.8 2328.3,1455.5 2341.2,1475.2 2348.9,1494.8 2337.1,1514.5 2348.1,1534.2 2335.2,1553.8 2363.2,1573.5 2317.8,1593.2 2354.1,1612.8 2348.1,1632.5 2355.3,1652.2 2336.6,1671.8 2371.8,1691.5 2394.0,1711.2 2391.8,1730.8 2482.9,1750.5 4393.6,1770.2"/>
<polyline class="dl" stroke="#a2352c" points="2249.6,216.5 2249.6,236.2 2249.7,255.8 2249.8,275.5 2250.0,295.2 2249.5,314.8 2249.0,334.5 2249.4,354.2 2249.1,373.8 2248.5,393.5 2249.2,413.2 2249.2,432.8 2250.0,452.5 2249.4,472.2 2250.1,491.8 2251.1,511.5 2250.7,531.2 2251.2,550.8 2250.7,570.5 2250.5,590.2 2250.0,609.8 2250.3,629.5 2249.8,649.2 2250.2,668.8 2250.5,688.5 2250.2,708.2 2251.5,727.8 2251.9,747.5 2253.1,767.2 2251.6,786.8 2250.5,806.5 2250.7,826.2 2250.6,845.8 2251.7,865.5 2251.0,885.2 2252.3,904.8 2252.8,924.5 2252.9,944.2 2254.3,963.8 2254.3,983.5 2255.7,1003.2 2256.3,1022.8 2257.1,1042.5 2258.5,1062.2 2260.7,1081.8 2265.4,1101.5 2263.8,1121.2 2268.8,1140.8 2270.6,1160.5 2273.6,1180.2 2276.1,1199.8 2278.7,1219.5 2282.1,1239.2 2284.9,1258.8 2289.6,1278.5 2296.9,1298.2 2303.5,1317.8 2312.4,1337.5 2316.9,1357.2 2321.6,1376.8 2320.5,1396.5 2327.1,1416.2 2338.7,1435.8 2348.1,1455.5 2365.2,1475.2 2367.2,1494.8 2376.1,1514.5 2363.6,1534.2 2374.3,1553.8 2342.2,1573.5 2371.2,1593.2 2354.0,1612.8 2376.3,1632.5 2366.1,1652.2 2390.5,1671.8 2357.0,1691.5 2393.5,1711.2 2371.8,1730.8 2396.2,1750.5 2372.0,1770.2 2363.4,1789.8 2347.2,1809.5 2378.5,1829.2 2347.3,1848.8 2390.2,1868.5 2363.1,1888.2"/>
<polyline class="dl" stroke="#ae3b31" points="2249.4,216.5 2249.8,236.2 2250.3,255.8 2249.8,275.5 2249.6,295.2 2250.0,314.8 2250.1,334.5 2249.7,354.2 2250.1,373.8 2249.8,393.5 2249.5,413.2 2250.0,432.8 2250.1,452.5 2249.9,472.2 2250.0,491.8 2249.1,511.5 2249.7,531.2 2249.9,550.8 2249.5,570.5 2250.4,590.2 2250.8,609.8 2250.7,629.5 2250.4,649.2 2250.5,668.8 2250.5,688.5 2249.6,708.2 2249.0,727.8 2249.6,747.5 2248.2,767.2 2249.6,786.8 2248.9,806.5 2249.2,826.2 2249.5,845.8 2248.7,865.5 2249.8,885.2 2250.6,904.8 2250.1,924.5 2251.0,944.2 2250.9,963.8 2251.8,983.5 2252.9,1003.2 2253.8,1022.8 2258.7,1042.5 2261.2,1062.2 2260.2,1081.8 2260.6,1101.5 2262.8,1121.2 2264.5,1140.8 2266.9,1160.5 2272.0,1180.2 2279.2,1199.8 2281.0,1219.5 2279.2,1239.2 2285.2,1258.8 2288.9,1278.5 2293.1,1298.2 2297.9,1317.8 2301.1,1337.5 2307.2,1357.2 2306.3,1376.8 2312.3,1396.5 2317.7,1416.2 2326.2,1435.8 2331.2,1455.5 2344.2,1475.2 2350.6,1494.8 2319.7,1514.5 2324.3,1534.2 2305.0,1553.8 2328.6,1573.5 2282.7,1593.2 2308.3,1612.8 2264.5,1632.5 2324.1,1652.2 2262.2,1671.8 2298.9,1691.5 2263.2,1711.2 2306.3,1730.8 2278.1,1750.5 2320.3,1770.2 2274.0,1789.8 2327.2,1809.5 2249.1,1829.2 2315.2,1848.8 2243.7,1868.5 2348.1,1888.2"/>
<polyline class="dl" stroke="#bb4236" points="2249.5,216.5 2249.4,236.2 2250.0,255.8 2249.8,275.5 2250.2,295.2 2250.3,314.8 2249.9,334.5 2249.7,354.2 2250.0,373.8 2250.2,393.5 2250.7,413.2 2250.8,432.8 2250.9,452.5 2249.7,472.2 2249.7,491.8 2250.0,511.5 2248.9,531.2 2250.0,550.8 2250.7,570.5 2250.2,590.2 2250.6,609.8 2250.2,629.5 2250.0,649.2 2249.0,668.8 2249.4,688.5 2249.4,708.2 2249.6,727.8 2248.5,747.5 2249.3,767.2 2248.7,786.8 2248.8,806.5 2249.6,826.2 2250.6,845.8 2250.5,865.5 2249.4,885.2 2250.0,904.8 2251.1,924.5 2251.3,944.2 2251.2,963.8 2252.2,983.5 2253.9,1003.2 2255.0,1022.8 2256.1,1042.5 2259.0,1062.2 2260.2,1081.8 2262.9,1101.5 2269.2,1121.2 2271.5,1140.8 2272.1,1160.5 2274.3,1180.2 2274.9,1199.8 2279.3,1219.5 2280.9,1239.2 2288.1,1258.8 2289.3,1278.5 2293.8,1298.2 2298.9,1317.8 2298.7,1337.5 2307.9,1357.2 2314.5,1376.8 2320.4,1396.5 2334.5,1416.2 2341.3,1435.8 2358.3,1455.5 2365.1,1475.2 2365.7,1494.8 2387.6,1514.5 2379.3,1534.2 2403.8,1553.8 2392.0,1573.5 2391.2,1593.2 2361.3,1612.8 2393.3,1632.5 2377.2,1652.2 2382.8,1671.8 2362.2,1691.5 2396.3,1711.2 2366.3,1730.8 2379.0,1750.5 2355.0,1770.2 2380.2,1789.8 2332.7,1809.5 2361.5,1829.2 2309.8,1848.8 2390.1,1868.5 2331.7,1888.2"/>
<polyline class="dl" stroke="#c8483c" points="2249.8,216.5 2250.1,236.2 2250.0,255.8 2250.6,275.5 2250.7,295.2 2250.2,314.8 2249.2,334.5 2249.3,354.2 2250.1,373.8 2249.5,393.5 2249.1,413.2 2249.8,432.8 2249.6,452.5 2249.5,472.2 2249.9,491.8 2249.6,511.5 2249.0,531.2 2248.6,550.8 2248.9,570.5 2248.5,590.2 2249.8,609.8 2250.7,629.5 2251.0,649.2 2251.0,668.8 2249.9,688.5 2249.7,708.2 2248.3,727.8 2248.8,747.5 2248.7,767.2 2248.8,786.8 2250.1,806.5 2249.4,826.2 2249.7,845.8 2249.1,865.5 2249.1,885.2 2250.8,904.8 2250.9,924.5 2251.8,944.2 2252.1,963.8 2252.0,983.5 2252.6,1003.2 2253.8,1022.8 2256.0,1042.5 2256.7,1062.2 2260.6,1081.8 2262.0,1101.5 2264.2,1121.2 2266.2,1140.8 2270.0,1160.5 2273.7,1180.2 2276.0,1199.8 2280.3,1219.5 2280.2,1239.2 2278.5,1258.8 2280.5,1278.5 2287.6,1298.2 2293.5,1317.8 2297.8,1337.5 2301.4,1357.2 2308.5,1376.8 2312.1,1396.5 2313.4,1416.2 2327.0,1435.8 2331.9,1455.5 2337.4,1475.2 2331.9,1494.8 2299.0,1514.5 2307.1,1534.2 2273.0,1553.8 2307.6,1573.5 2252.6,1593.2 2310.9,1612.8 2253.2,1632.5 2307.9,1652.2 2257.0,1671.8 2307.8,1691.5 2269.3,1711.2 2317.5,1730.8 2251.1,1750.5 2302.0,1770.2 2234.4,1789.8 2338.5,1809.5 2227.4,1829.2 2349.6,1848.8 2194.0,1868.5 2416.2,1888.2"/>
<polyline class="dl" stroke="#d54e41" points="2249.7,216.5 2249.6,236.2 2249.3,255.8 2249.0,275.5 2248.9,295.2 2248.8,314.8 2249.3,334.5 2249.6,354.2 2249.5,373.8 2249.8,393.5 2250.0,413.2 2250.3,432.8 2249.2,452.5 2249.5,472.2 2249.8,491.8 2250.5,511.5 2250.8,531.2 2251.1,550.8 2251.2,570.5 2250.4,590.2 2250.2,609.8 2249.9,629.5 2249.4,649.2 2249.8,668.8 2250.0,688.5 2250.4,708.2 2250.6,727.8 2250.2,747.5 2251.1,767.2 2252.3,786.8 2251.5,806.5 2251.9,826.2 2252.4,845.8 2252.7,865.5 2252.8,885.2 2253.0,904.8 2251.3,924.5 2251.1,944.2 2250.6,963.8 2252.3,983.5 2253.7,1003.2 2256.2,1022.8 2259.7,1042.5 2260.1,1062.2 2261.3,1081.8 2262.0,1101.5 2266.0,1121.2 2270.7,1140.8 2276.0,1160.5 2278.7,1180.2 2282.0,1199.8 2278.5,1219.5 2281.9,1239.2 2283.2,1258.8 2284.1,1278.5 2285.0,1298.2 2294.7,1317.8 2298.2,1337.5 2302.1,1357.2 2304.2,1376.8 2312.9,1396.5 2323.6,1416.2 2334.1,1435.8 2345.8,1455.5 2350.6,1475.2 2356.8,1494.8 2364.4,1514.5 2361.1,1534.2 2378.6,1553.8 2368.7,1573.5 2387.8,1593.2 2377.5,1612.8 2384.3,1632.5 2362.3,1652.2 2396.4,1671.8 2364.7,1691.5 2405.6,1711.2 2374.3,1730.8 2403.7,1750.5 2359.1,1770.2 2406.3,1789.8 2362.7,1809.5 2412.2,1829.2 2365.7,1848.8 2447.0,1868.5 2359.4,1888.2"/>
<polyline class="dl" stroke="#e15546" points="2249.6,216.5 2249.8,236.2 2249.4,255.8 2249.3,275.5 2249.1,295.2 2249.1,314.8 2249.0,334.5 2249.5,354.2 2249.9,373.8 2250.4,393.5 2250.4,413.2 2250.5,432.8 2249.7,452.5 2249.9,472.2 2249.4,491.8 2249.5,511.5 2249.4,531.2 2249.1,550.8 2248.9,570.5 2249.2,590.2 2249.0,609.8 2249.5,629.5 2249.9,649.2 2249.6,668.8 2250.0,688.5 2250.2,708.2 2248.8,727.8 2248.7,747.5 2248.6,767.2 2249.2,786.8 2248.6,806.5 2248.0,826.2 2249.1,845.8 2249.3,865.5 2249.1,885.2 2249.8,904.8 2248.9,924.5 2249.0,944.2 2249.4,963.8 2249.8,983.5 2251.1,1003.2 2253.4,1022.8 2255.5,1042.5 2255.7,1062.2 2258.2,1081.8 2258.4,1101.5 2261.3,1121.2 2265.1,1140.8 2268.8,1160.5 2269.1,1180.2 2271.0,1199.8 2274.9,1219.5 2275.4,1239.2 2275.8,1258.8 2275.3,1278.5 2280.8,1298.2 2284.0,1317.8 2288.3,1337.5 2289.7,1357.2 2292.4,1376.8 2298.2,1396.5 2315.0,1416.2 2324.9,1435.8 2327.5,1455.5 2326.8,1475.2 2330.6,1494.8 2293.1,1514.5 2301.4,1534.2 2265.9,1553.8 2288.5,1573.5 2251.7,1593.2 2300.7,1612.8 2274.5,1632.5 2314.9,1652.2 2252.9,1671.8 2293.3,1691.5 2254.6,1711.2 2293.2,1730.8 2233.4,1750.5 2238.5,1770.2 2327.4,1789.8 2229.6,1809.5 2316.2,1829.2 2177.4,1848.8 2427.3,1868.5 2305.1,1888.2"/>
<polyline class="dl" stroke="#ee5b4b" points="2249.5,216.5 2249.4,236.2 2249.3,255.8 2249.2,275.5 2249.8,295.2 2249.7,314.8 2250.2,334.5 2249.8,354.2 2249.7,373.8 2249.5,393.5 2249.2,413.2 2248.8,432.8 2249.2,452.5 2248.6,472.2 2248.8,491.8 2248.2,511.5 2248.5,531.2 2248.5,550.8 2248.3,570.5 2248.6,590.2 2249.0,609.8 2249.2,629.5 2249.3,649.2 2250.4,668.8 2250.2,688.5 2250.4,708.2 2250.1,727.8 2251.1,747.5 2249.9,767.2 2249.5,786.8 2249.1,806.5 2250.0,826.2 2250.4,845.8 2250.5,865.5 2248.9,885.2 2250.0,904.8 2249.5,924.5 2249.5,944.2 2250.7,963.8 2251.0,983.5 2250.5,1003.2 2253.2,1022.8 2252.5,1042.5 2253.9,1062.2 2256.6,1081.8 2259.6,1101.5 2264.3,1121.2 2268.8,1140.8 2270.0,1160.5 2270.3,1180.2 2274.7,1199.8 2275.7,1219.5 2277.9,1239.2 2279.7,1258.8 2282.9,1278.5 2286.3,1298.2 2289.1,1317.8 2295.6,1337.5 2300.9,1357.2 2301.4,1376.8 2309.2,1396.5 2320.3,1416.2 2324.7,1435.8 2328.2,1455.5 2338.8,1475.2 2345.0,1494.8 2357.7,1514.5 2343.0,1534.2 2368.0,1553.8 2331.7,1573.5 2366.6,1593.2 2331.3,1612.8 2374.8,1632.5 2356.5,1652.2 2376.1,1671.8 2357.0,1691.5 2392.9,1711.2 2349.6,1730.8 2368.9,1750.5 2325.8,1770.2 2373.0,1789.8 2324.9,1809.5 2387.7,1829.2 2320.0,1848.8 2356.6,1868.5 2300.0,1888.2"/>
</g>
<rect class="sp" x="2138.5" y="216.5" width="1222.0" height="1652.0"/>
<line class="tick" x1="2126.4" x2="2135.9" y1="216.5" y2="216.5"/>
<text font-size="46.67"><tspan x="2061.0" textLength="52.8" lengthAdjust="spacingAndGlyphs" y="233.1" stroke-width="1.04">50</tspan></text>
<line class="tick" x1="2126.4" x2="2135.9" y1="413.2" y2="413.2"/>
<text font-size="46.67"><tspan x="2060.3" textLength="53.5" lengthAdjust="spacingAndGlyphs" y="429.8" stroke-width="0.98">45</tspan></text>
<line class="tick" x1="2126.4" x2="2135.9" y1="609.8" y2="609.8"/>
<text font-size="46.67"><tspan x="2058.5" textLength="54.5" lengthAdjust="spacingAndGlyphs" y="626.4" stroke-width="0.89">40</tspan></text>
<line class="tick" x1="2126.4" x2="2135.9" y1="806.5" y2="806.5"/>
<text font-size="46.67"><tspan x="2063.3" textLength="50.8" lengthAdjust="spacingAndGlyphs" y="823.1" stroke-width="1.22">35</tspan></text>
<line class="tick" x1="2126.4" x2="2135.9" y1="1003.2" y2="1003.2"/>
<text font-size="46.67"><tspan x="2061.7" textLength="52.0" lengthAdjust="spacingAndGlyphs" y="1019.8" stroke-width="1.11">30</tspan></text>
<line class="tick" x1="2126.4" x2="2135.9" y1="1199.8" y2="1199.8"/>
<text font-size="46.67"><tspan x="2063.1" textLength="49.5" lengthAdjust="spacingAndGlyphs" y="1216.4" stroke-width="1.34">25</tspan></text>
<line class="tick" x1="2126.4" x2="2135.9" y1="1396.5" y2="1396.5"/>
<text font-size="46.67"><tspan x="2061.0" textLength="52.4" lengthAdjust="spacingAndGlyphs" y="1413.1" stroke-width="1.08">20</tspan></text>
<line class="tick" x1="2126.4" x2="2135.9" y1="1593.2" y2="1593.2"/>
<text font-size="46.67"><tspan x="2065.6" textLength="46.9" lengthAdjust="spacingAndGlyphs" y="1609.8" stroke-width="1.57">15</tspan></text>
<line class="tick" x1="2126.4" x2="2135.9" y1="1789.8" y2="1789.8"/>
<text font-size="46.67"><tspan x="2064.3" textLength="48.7" lengthAdjust="spacingAndGlyphs" y="1806.4" stroke-width="1.41">10</tspan></text>
<line class="tick" x1="2249.6" x2="2249.6" y1="1871.1" y2="1880.6"/>
<text font-size="46.67"><tspan x="2187.6" textLength="121.5" lengthAdjust="spacingAndGlyphs" y="1926.6" stroke-width="0.93">0.000</tspan></text>
<line class="tick" x1="2471.8" x2="2471.8" y1="1871.1" y2="1880.6"/>
<text font-size="46.67"><tspan x="2409.7" textLength="122.3" lengthAdjust="spacingAndGlyphs" y="1926.6" stroke-width="0.90">0.002</tspan></text>
<line class="tick" x1="2694.0" x2="2694.0" y1="1871.1" y2="1880.6"/>
<text font-size="46.67"><tspan x="2631.9" textLength="121.5" lengthAdjust="spacingAndGlyphs" y="1926.6" stroke-width="0.93">0.004</tspan></text>
<line class="tick" x1="2916.1" x2="2916.1" y1="1871.1" y2="1880.6"/>
<text font-size="46.67"><tspan x="2854.1" textLength="122.3" lengthAdjust="spacingAndGlyphs" y="1926.6" stroke-width="0.90">0.006</tspan></text>
<line class="tick" x1="3138.3" x2="3138.3" y1="1871.1" y2="1880.6"/>
<text font-size="46.67"><tspan x="3076.3" textLength="122.3" lengthAdjust="spacingAndGlyphs" y="1926.6" stroke-width="0.90">0.008</tspan></text>
<line class="tick" x1="3360.5" x2="3360.5" y1="1871.1" y2="1880.6"/>
<text font-size="46.67"><tspan x="3301.1" textLength="116.2" lengthAdjust="spacingAndGlyphs" y="1926.6" stroke-width="1.14">0.010</tspan></text>
<text font-size="60"><tspan x="2319.1" textLength="217.3" lengthAdjust="spacingAndGlyphs" y="2002.2" stroke-width="1.03">Aerosol</tspan> <tspan x="2556.3" textLength="287.1" lengthAdjust="spacingAndGlyphs" y="2002.2" stroke-width="0.82">Extinction</tspan> <tspan x="2860.6" textLength="317.3" lengthAdjust="spacingAndGlyphs" y="2002.2" stroke-width="0.70">Coefficient</tspan></text>
<text font-size="60"><tspan x="2652.0" textLength="19.7" lengthAdjust="spacingAndGlyphs" y="2076.7" stroke-width="0.35">[</tspan><tspan x="2676.3" textLength="87.9" lengthAdjust="spacingAndGlyphs" y="2076.7" stroke-width="0.84">km</tspan><tspan x="2768.8" textLength="30.4" lengthAdjust="spacingAndGlyphs" y="2058.7" font-size="42" class="sf" stroke-width="0.00">−</tspan><tspan x="2800.6" textLength="18.5" lengthAdjust="spacingAndGlyphs" y="2055.0" font-size="42" class="sf" stroke-width="0.00">1</tspan><tspan x="2828.8" textLength="19.7" lengthAdjust="spacingAndGlyphs" y="2076.7" stroke-width="0.35">]</tspan></text>
<text font-size="60" transform="translate(2024.8,1234.8) rotate(-90)"><tspan x="0.0" textLength="233.8" lengthAdjust="spacingAndGlyphs" y="0.0" stroke-width="0.43">Altitude</tspan> <tspan x="246.2" textLength="137.9" lengthAdjust="spacingAndGlyphs" y="0.0" stroke-width="0.14">[km]</tspan></text>
<rect x="14.7" y="759.5" width="424.1" height="896.6" rx="6.5" ry="6.5" fill="#000" stroke="#b4b4b4" stroke-width="3.3"/>
<line x1="24.9" x2="115.1" y1="791.0" y2="791.0" stroke="#064c76" stroke-width="10"/>
<text font-size="40"><tspan x="142.2" textLength="273.5" lengthAdjust="spacingAndGlyphs" y="805.2" stroke-width="1.03">2018120601SR</tspan></text>
<line x1="24.9" x2="115.1" y1="850.0" y2="850.0" stroke="#06517c" stroke-width="10"/>
<text font-size="40"><tspan x="142.1" textLength="278.3" lengthAdjust="spacingAndGlyphs" y="864.2" stroke-width="0.96">2018120604SR</tspan></text>
<line x1="24.9" x2="115.1" y1="909.0" y2="909.0" stroke="#065583" stroke-width="10"/>
<text font-size="40"><tspan x="142.1" textLength="275.1" lengthAdjust="spacingAndGlyphs" y="923.2" stroke-width="1.00">2018120607SR</tspan></text>
<line x1="24.9" x2="115.1" y1="968.0" y2="968.0" stroke="#065a89" stroke-width="10"/>
<text font-size="40"><tspan x="142.2" textLength="273.5" lengthAdjust="spacingAndGlyphs" y="982.2" stroke-width="1.03">2018120610SR</tspan></text>
<line x1="24.9" x2="115.1" y1="1027.0" y2="1027.0" stroke="#055f90" stroke-width="10"/>
<text font-size="40"><tspan x="142.2" textLength="270.3" lengthAdjust="spacingAndGlyphs" y="1041.2" stroke-width="1.07">2018120613SR</tspan></text>
<line x1="24.9" x2="115.1" y1="1086.0" y2="1086.0" stroke="#056496" stroke-width="10"/>
<text font-size="40"><tspan x="142.2" textLength="271.2" lengthAdjust="spacingAndGlyphs" y="1100.2" stroke-width="1.06">2018120616SR</tspan></text>
<line x1="24.9" x2="115.1" y1="1145.0" y2="1145.0" stroke="#05689d" stroke-width="10"/>
<text font-size="40"><tspan x="142.2" textLength="271.2" lengthAdjust="spacingAndGlyphs" y="1159.2" stroke-width="1.06">2018120619SR</tspan></text>
<line x1="24.9" x2="115.1" y1="1204.0" y2="1204.0" stroke="#056da3" stroke-width="10"/>
<text font-size="40"><tspan x="142.2" textLength="272.6" lengthAdjust="spacingAndGlyphs" y="1218.2" stroke-width="1.04">2018120622SR</tspan></text>
<line x1="24.9" x2="115.1" y1="1263.0" y2="1263.0" stroke="#0572a9" stroke-width="10"/>
<text font-size="40"><tspan x="142.2" textLength="274.3" lengthAdjust="spacingAndGlyphs" y="1277.2" stroke-width="1.01">2018120628SR</tspan></text>
<line x1="24.9" x2="115.1" y1="1322.0" y2="1322.0" stroke="#0576b0" stroke-width="10"/>
<text font-size="40"><tspan x="142.2" textLength="269.8" lengthAdjust="spacingAndGlyphs" y="1336.2" stroke-width="1.08">2018120631SR</tspan></text>
<line x1="24.9" x2="115.1" y1="1381.0" y2="1381.0" stroke="#057bb6" stroke-width="10"/>
<text font-size="40"><tspan x="142.1" textLength="275.0" lengthAdjust="spacingAndGlyphs" y="1395.2" stroke-width="1.00">2018120634SR</tspan></text>
<line x1="24.9" x2="115.1" y1="1440.0" y2="1440.0" stroke="#0480bd" stroke-width="10"/>
<text font-size="40"><tspan x="142.2" textLength="271.6" lengthAdjust="spacingAndGlyphs" y="1454.2" stroke-width="1.05">2018120637SR</tspan></text>
<line x1="24.9" x2="115.1" y1="1499.0" y2="1499.0" stroke="#0485c3" stroke-width="10"/>
<text font-size="40"><tspan x="142.1" textLength="277.9" lengthAdjust="spacingAndGlyphs" y="1513.2" stroke-width="0.96">2018120640SR</tspan></text>
<line x1="24.9" x2="115.1" y1="1558.0" y2="1558.0" stroke="#0489ca" stroke-width="10"/>
<text font-size="40"><tspan x="142.1" textLength="275.0" lengthAdjust="spacingAndGlyphs" y="1572.2" stroke-width="1.00">2018120643SR</tspan></text>
<line x1="24.9" x2="115.1" y1="1617.0" y2="1617.0" stroke="#048ed0" stroke-width="10"/>
<text font-size="40"><tspan x="142.1" textLength="276.0" lengthAdjust="spacingAndGlyphs" y="1631.2" stroke-width="0.99">2018120646SR</tspan></text>
<rect x="3380.6" y="759.5" width="420.2" height="896.6" rx="6.5" ry="6.5" fill="#000" stroke="#b4b4b4" stroke-width="3.3"/>
<line x1="3390.9" x2="3481.1" y1="791.0" y2="791.0" stroke="#3c0203" stroke-width="10"/>
<text font-size="40"><tspan x="3508.2" textLength="271.9" lengthAdjust="spacingAndGlyphs" y="805.2" stroke-width="1.02">2018120603SS</tspan></text>
<line x1="3390.9" x2="3481.1" y1="850.0" y2="850.0" stroke="#490808" stroke-width="10"/>
<text font-size="40"><tspan x="3508.1" textLength="273.5" lengthAdjust="spacingAndGlyphs" y="864.2" stroke-width="0.99">2018120606SS</tspan></text>
<line x1="3390.9" x2="3481.1" y1="909.0" y2="909.0" stroke="#550f0d" stroke-width="10"/>
<text font-size="40"><tspan x="3508.1" textLength="273.5" lengthAdjust="spacingAndGlyphs" y="923.2" stroke-width="0.99">2018120609SS</tspan></text>
<line x1="3390.9" x2="3481.1" y1="968.0" y2="968.0" stroke="#621512" stroke-width="10"/>
<text font-size="40"><tspan x="3508.2" textLength="268.5" lengthAdjust="spacingAndGlyphs" y="982.2" stroke-width="1.07">2018120612SS</tspan></text>
<line x1="3390.9" x2="3481.1" y1="1027.0" y2="1027.0" stroke="#6f1b18" stroke-width="10"/>
<text font-size="40"><tspan x="3508.2" textLength="269.2" lengthAdjust="spacingAndGlyphs" y="1041.2" stroke-width="1.06">2018120615SS</tspan></text>
<line x1="3390.9" x2="3481.1" y1="1086.0" y2="1086.0" stroke="#7c221d" stroke-width="10"/>
<text font-size="40"><tspan x="3508.2" textLength="269.9" lengthAdjust="spacingAndGlyphs" y="1100.2" stroke-width="1.05">2018120618SS</tspan></text>
<line x1="3390.9" x2="3481.1" y1="1145.0" y2="1145.0" stroke="#882822" stroke-width="10"/>
<text font-size="40"><tspan x="3508.2" textLength="268.5" lengthAdjust="spacingAndGlyphs" y="1159.2" stroke-width="1.07">2018120621SS</tspan></text>
<line x1="3390.9" x2="3481.1" y1="1204.0" y2="1204.0" stroke="#952e27" stroke-width="10"/>
<text font-size="40"><tspan x="3508.1" textLength="274.0" lengthAdjust="spacingAndGlyphs" y="1218.2" stroke-width="0.99">2018120624SS</tspan></text>
<line x1="3390.9" x2="3481.1" y1="1263.0" y2="1263.0" stroke="#a2352c" stroke-width="10"/>
<text font-size="40"><tspan x="3508.2" textLength="270.3" lengthAdjust="spacingAndGlyphs" y="1277.2" stroke-width="1.04">2018120627SS</tspan></text>
<line x1="3390.9" x2="3481.1" y1="1322.0" y2="1322.0" stroke="#ae3b31" stroke-width="10"/>
<text font-size="40"><tspan x="3508.2" textLength="272.1" lengthAdjust="spacingAndGlyphs" y="1336.2" stroke-width="1.01">2018120630SS</tspan></text>
<line x1="3390.9" x2="3481.1" y1="1381.0" y2="1381.0" stroke="#bb4236" stroke-width="10"/>
<text font-size="40"><tspan x="3508.2" textLength="268.6" lengthAdjust="spacingAndGlyphs" y="1395.2" stroke-width="1.07">2018120633SS</tspan></text>
<line x1="3390.9" x2="3481.1" y1="1440.0" y2="1440.0" stroke="#c8483c" stroke-width="10"/>
<text font-size="40"><tspan x="3508.2" textLength="270.3" lengthAdjust="spacingAndGlyphs" y="1454.2" stroke-width="1.04">2018120636SS</tspan></text>
<line x1="3390.9" x2="3481.1" y1="1499.0" y2="1499.0" stroke="#d54e41" stroke-width="10"/>
<text font-size="40"><tspan x="3508.2" textLength="270.3" lengthAdjust="spacingAndGlyphs" y="1513.2" stroke-width="1.04">2018120639SS</tspan></text>
<line x1="3390.9" x2="3481.1" y1="1558.0" y2="1558.0" stroke="#e15546" stroke-width="10"/>
<text font-size="40"><tspan x="3508.1" textLength="273.8" lengthAdjust="spacingAndGlyphs" y="1572.2" stroke-width="0.99">2018120642SS</tspan></text>
<line x1="3390.9" x2="3481.1" y1="1617.0" y2="1617.0" stroke="#ee5b4b" stroke-width="10"/>
<text font-size="40"><tspan x="3508.1" textLength="273.8" lengthAdjust="spacingAndGlyphs" y="1631.2" stroke-width="0.99">2018120645SS</tspan></text>
<line x1="39.6" x2="120" y1="1980" y2="1980" stroke="#fff" stroke-width="10" stroke-dasharray="37 16"/>
<text font-size="40"><tspan x="151.5" textLength="108.3" lengthAdjust="spacingAndGlyphs" y="1994.0" stroke-width="0.63">Mean</tspan> <tspan x="271.8" textLength="230.2" lengthAdjust="spacingAndGlyphs" y="1994.0" stroke-width="0.62">Tropopause</tspan></text>
<line x1="39.6" x2="120" y1="2039.7" y2="2039.7" stroke="#fff" stroke-width="10" stroke-dasharray="10 16.5"/>
<text font-size="40"><tspan x="151.4" textLength="145.0" lengthAdjust="spacingAndGlyphs" y="2053.7" stroke-width="0.54">Median</tspan> <tspan x="307.9" textLength="230.0" lengthAdjust="spacingAndGlyphs" y="2053.7" stroke-width="0.62">Tropopause</tspan></text>
<rect x="40.3" y="2085.5" width="80.4" height="27.8" fill="#696c71" stroke="#8e9094" stroke-width="2.6"/>
<text font-size="40"><tspan x="154.2" textLength="229.5" lengthAdjust="spacingAndGlyphs" y="2113.3" stroke-width="0.63">Tropopause</tspan> <tspan x="392.6" textLength="128.2" lengthAdjust="spacingAndGlyphs" y="2113.3" stroke-width="0.61">Range</tspan></text>
<text font-size="33.33" class="ft"><tspan x="3268.0" textLength="87.8" lengthAdjust="spacingAndGlyphs" y="2038.0" stroke-width="0.97">SAGE</tspan> <tspan x="3367.0" textLength="39.1" lengthAdjust="spacingAndGlyphs" y="2038.0" font-size="35.4" class="mf" stroke-width="2.22">III</tspan><tspan x="3406.0" textLength="13.8" lengthAdjust="spacingAndGlyphs" y="2038.0" stroke-width="0.00">/</tspan><tspan x="3420.2" textLength="14.1" lengthAdjust="spacingAndGlyphs" y="2038.0" font-size="35.4" class="mf" stroke-width="2.04">I</tspan><tspan x="3433.5" textLength="56.5" lengthAdjust="spacingAndGlyphs" y="2038.0" stroke-width="0.00">SS</tspan> <tspan x="3499.1" textLength="122.9" lengthAdjust="spacingAndGlyphs" y="2038.0" stroke-width="0.51">Mission</tspan> <tspan x="3629.1" textLength="8.3" lengthAdjust="spacingAndGlyphs" y="2038.0" stroke-width="0.93">|</tspan> <tspan x="3645.8" textLength="92.0" lengthAdjust="spacingAndGlyphs" y="2038.0" stroke-width="0.76">NASA</tspan> <tspan x="3750.1" textLength="89.7" lengthAdjust="spacingAndGlyphs" y="2038.0" stroke-width="0.63">LaRC</tspan></text>
<text font-size="33.33" class="ft"><tspan x="3310.9" textLength="153.3" lengthAdjust="spacingAndGlyphs" y="2075.5" stroke-width="0.46">Preparer:</tspan> <tspan x="3470.3" textLength="94.5" lengthAdjust="spacingAndGlyphs" y="2075.5" stroke-width="0.36">Kevin</tspan> <tspan x="3573.1" textLength="27.4" lengthAdjust="spacingAndGlyphs" y="2075.5" stroke-width="1.39">R.</tspan> <tspan x="3609.5" textLength="114.9" lengthAdjust="spacingAndGlyphs" y="2075.5" stroke-width="0.37">Leavor</tspan> <tspan x="3734.9" textLength="105.6" lengthAdjust="spacingAndGlyphs" y="2075.5" stroke-width="0.41">(AMA)</tspan></text>
<text font-size="33.33" class="ft"><tspan x="3388.3" textLength="174.0" lengthAdjust="spacingAndGlyphs" y="2113.0" stroke-width="0.45">Generated</tspan> <tspan x="3571.1" textLength="171.8" lengthAdjust="spacingAndGlyphs" y="2113.0" stroke-width="0.77">2025-07-17</tspan> <tspan x="3754.9" textLength="85.0" lengthAdjust="spacingAndGlyphs" y="2113.0" stroke-width="0.74">22:25</tspan></text>
<text font-size="33.33" class="ft"><tspan x="3532.5" textLength="77.1" lengthAdjust="spacingAndGlyphs" y="2150.0" stroke-width="0.48">Data</tspan> <tspan x="3622.4" textLength="133.7" lengthAdjust="spacingAndGlyphs" y="2150.0" stroke-width="0.43">Version:</tspan> <tspan x="3767.4" textLength="71.9" lengthAdjust="spacingAndGlyphs" y="2150.0" stroke-width="0.90">6.0.0</tspan></text>
<g id="logo">
<defs>
<clipPath id="lgInner"><circle cx="3661.5" cy="220.0" r="126.5"/></clipPath>
<clipPath id="lgEarth"><circle cx="3200" cy="592" r="595"/></clipPath>
<clipPath id="lgTop"><rect x="3480" y="60" width="200" height="187"/></clipPath>
<clipPath id="lgSun"><circle cx="3735" cy="281" r="23"/></clipPath>
<clipPath id="lgMoon"><circle cx="3637.3" cy="143.8" r="23.8"/></clipPath>
<clipPath id="lgOrb"><circle cx="3532.7" cy="113" r="10.4"/></clipPath>
<g id="wiz">
<polygon fill="#d8493b" points="3560.9,149.2 3543.8,151.9 3528.6,169.0 3518.7,176.1 3513.3,201.3 3507.9,224.6 3502.6,240.8 3518.7,233.6 3531.3,219.2 3541.1,197.7 3543.8,215.6 3552.8,212.0 3543.8,233.6 3537.0,251.5 3542.0,269.5 3560.0,298.2 3576.1,310.7 3590.5,323.3 3607.6,335.0 3607.0,233.6 3604.9,190.5 3608.4,174.4 3601.3,169.0 3583.3,190.5 3574.4,167.2"/>
<polygon fill="#8f2323" points="3521.4,190.5 3514.2,219.2 3505.3,239.9 3524.1,226.4 3534.9,206.7 3531.3,190.5"/>
<polygon fill="#ea6a5b" points="3528.6,169.9 3519.6,177.9 3515.1,199.5 3521.4,190.5 3531.3,190.5 3538.5,174.4"/>
<polygon fill="#ea6a5b" points="3560.9,149.6 3544.7,152.8 3534.9,165.4 3549.2,161.8 3565.4,183.3 3579.7,193.2 3574.4,174.4"/>
<polygon fill="#8f2323" points="3549.2,162.7 3565.4,184.2 3579.7,194.1 3590.5,197.7 3604.9,192.3 3604.9,197.7 3583.3,204.9 3561.8,195.9 3547.4,176.1"/>
<polygon fill="#8f2323" points="3559.1,233.6 3562.7,233.6 3568.8,296.4 3564.1,292.8"/>
<polygon fill="#8f2323" points="3571.7,233.6 3575.2,233.6 3582.2,312.5 3577.6,309.0"/>
<polygon fill="#8f2323" points="3584.2,233.6 3587.8,233.6 3593.9,324.2 3589.2,320.6"/>
<polygon fill="#8f2323" points="3595.0,233.6 3598.6,233.6 3604.1,332.3 3599.5,328.7"/>
<polygon fill="#ea6a5b" points="3565.9,235.4 3568.4,235.4 3574.4,301.8 3571.8,300.0"/>
<polygon fill="#ea6a5b" points="3579.0,235.4 3581.5,235.4 3586.9,315.2 3584.4,313.4"/>
<polygon fill="#ea6a5b" points="3591.0,235.4 3593.6,235.4 3598.2,325.1 3595.7,323.3"/>
<polygon fill="#8f2323" points="3565.4,199.5 3569.0,213.8 3574.4,215.6 3571.7,201.3"/>
<polygon fill="#8f2323" points="3590.5,204.9 3592.3,218.3 3597.7,220.1 3595.9,204.9"/>
<polygon fill="#7c3f1c" points="3553.2,205.8 3576.1,213.5 3605.2,218.3 3605.2,226.8 3574.4,221.0 3551.0,213.8"/>
<polygon fill="#c07a3a" points="3553.9,208.4 3576.1,216.0 3604.9,221.0 3604.9,223.2 3575.8,218.1 3552.8,210.8"/>
<polygon fill="#a6632d" stroke="#5a2a10" stroke-width="1.6" points="3603.1,223.2 3598.6,231.0 3589.6,231.0 3585.1,223.2 3589.6,215.4 3598.6,215.4"/>
<text x="3594.1" y="226.6" text-anchor="middle" font-size="10" font-style="italic" font-weight="bold" style="font-family:'Liberation Serif',serif;fill:#f1c98c">S</text>
<polygon fill="#7a3d1b" points="3603.4,166.3 3615.6,169.9 3618.5,174.4 3614.2,191.4 3605.8,187.8"/>
<polygon fill="#c98543" points="3608.4,169.0 3615.6,171.1 3613.8,186.9 3610.6,185.5"/>
<ellipse cx="3612.4" cy="184.8" rx="4.6" ry="6.2" fill="#eeb274"/>
<polygon fill="#ffffff" points="3560.4,144.7 3566.3,135.8 3578.8,129.8 3594.1,128.2 3604.9,131.6 3607.6,138.8 3597.7,134.9 3587.8,137.0 3583.3,143.8 3585.5,156.4 3597.7,161.4 3600.9,174.4 3598.0,186.9 3587.8,191.4 3580.1,184.2 3576.1,169.9 3569.0,159.1"/>
<polygon fill="#d9dbe6" points="3569.0,149.2 3574.4,143.8 3579.7,158.2 3583.3,174.4 3587.8,186.9 3580.6,181.5 3577.0,167.2 3571.7,158.2"/>
<polygon fill="#e8a468" points="3588.3,137.0 3597.7,134.9 3604.9,139.9 3603.1,147.1 3599.8,151.9 3598.8,159.6 3591.6,156.8 3585.5,151.9 3584.8,143.8"/>
<polygon fill="#a8602f" points="3592.7,143.1 3601.6,144.9 3600.9,147.1 3593.2,145.3"/>
<polygon fill="#ffffff" points="3590.5,156.8 3598.8,158.2 3599.8,163.6 3593.2,161.8"/>
<polyline fill="none" stroke="#9a5526" stroke-width="5" stroke-linejoin="round" points="3534.0,122.3 3539.4,174.4 3549.2,233.6 3552.1,251.5 3557.5,260.5 3558.9,271.3 3563.0,294.6"/>
<polyline fill="none" stroke="#e0a560" stroke-width="1.5" stroke-linejoin="round" points="3533.4,122.3 3538.8,174.4 3548.6,233.6 3551.5,251.5 3556.9,260.5 3558.3,271.3 3562.4,294.6"/>
<ellipse cx="3538.1" cy="180.6" rx="8.2" ry="8" fill="#efb577"/>
<polygon fill="#c5793f" points="3533.1,183.3 3543.8,186.9 3543.1,189.1 3532.7,185.8"/>
<circle cx="3532.7" cy="113" r="10.4" fill="#ffffff"/>
<circle cx="3534.4" cy="114.2" r="9.6" fill="#c8cadb" clip-path="url(#lgOrb)"/>
</g>
</defs>
<path fill="#e4574a" d="M3528,17.9 H3796 A34,34 0 0 1 3830,51.9 V220 A168,171.5 0 0 1 3494,220 V51.9 A34,34 0 0 1 3528,17.9 Z"/>
<path fill="#0b4f86" d="M3528.5,24.6 H3795.5 A27,27 0 0 1 3822.5,51.6 V220 A160.5,164.6 0 0 1 3501.5,220 V51.6 A27,27 0 0 1 3528.5,24.6 Z"/>
<g clip-path="url(#lgInner)">
<circle cx="3200" cy="592" r="607" fill="#1a70aa"/>
<circle cx="3200" cy="592" r="595" fill="#0c5890" stroke="#d6e9f5" stroke-width="1.2"/>
<g clip-path="url(#lgEarth)">
<polygon fill="#5ba56e" points="3598.0,150.0 3585.0,138.0 3560.0,118.0 3560.0,100.0 3660.0,100.0 3675.0,222.0 3668.0,236.0 3665.9,246.1 3663.0,256.0 3653.3,262.9 3643.5,272.7 3642.1,283.9 3647.7,295.0 3654.7,303.4 3661.7,302.0 3667.0,290.0 3672.0,292.0 3675.6,306.0 3681.0,310.0 3689.6,313.0 3696.0,300.6 3703.6,292.2 3710.6,289.4 3735.0,295.0 3770.0,345.0 3700.0,350.0 3695.2,339.7 3693.8,325.8 3686.8,317.4 3678.4,312.0 3661.7,310.4 3642.1,313.2 3625.3,304.8 3608.6,289.4 3598.0,282.0"/>
<polygon fill="#0c5890" points="3621.0,203.0 3626.0,201.0 3629.0,206.0 3634.0,203.0 3640.0,205.0 3645.0,202.0 3649.0,206.0 3652.0,214.0 3650.0,223.0 3645.0,226.0 3643.0,218.0 3639.0,214.0 3638.0,222.0 3634.0,226.0 3631.0,217.0 3627.0,213.0 3623.0,212.0"/>
<polygon fill="#0c5890" points="3612.0,289.0 3618.0,292.0 3630.0,303.0 3638.0,308.0 3632.0,309.0 3620.0,300.0"/>
</g>
<circle cx="3637.3" cy="143.8" r="23.8" fill="#ffffff"/>
<g clip-path="url(#lgMoon)"><circle cx="3640.3" cy="141.2" r="22.6" fill="#e6e7ef"/>
<ellipse cx="3632" cy="133" rx="7" ry="5" fill="#bbbdd0"/>
<ellipse cx="3643" cy="130" rx="6" ry="4" fill="#bbbdd0"/>
<ellipse cx="3650" cy="138" rx="5" ry="6" fill="#bbbdd0"/>
<ellipse cx="3641" cy="143" rx="6" ry="4.5" fill="#bbbdd0"/>
<ellipse cx="3634" cy="146" rx="4" ry="5" fill="#bbbdd0"/>
<ellipse cx="3646" cy="150" rx="4.5" ry="4" fill="#bbbdd0"/>
<ellipse cx="3627" cy="139" rx="3" ry="4" fill="#bbbdd0"/>
</g>
<path fill="#fbe6a8" d="M3693.7,107.10000000000001 L3695.002,115.098 L3702.535,116.4 L3695.002,117.70200000000001 L3693.7,125.7 L3692.3979999999997,117.70200000000001 L3684.865,116.4 L3692.3979999999997,115.098 Z"/>
<circle cx="3693.7" cy="116.4" r="2.2" fill="#f9c75a"/>
<path fill="#eaf4fb" d="M3680.2,122.2 L3680.984,127.01599999999999 L3685.52,127.8 L3680.984,128.584 L3680.2,133.4 L3679.4159999999997,128.584 L3674.8799999999997,127.8 L3679.4159999999997,127.01599999999999 Z"/>
<path fill="#eaf4fb" d="M3703.5,126.6 L3704.144,130.55599999999998 L3707.87,131.2 L3704.144,131.844 L3703.5,135.79999999999998 L3702.856,131.844 L3699.13,131.2 L3702.856,130.55599999999998 Z"/>
<line x1="3715.4" y1="190.9" x2="3656.4" y2="159.4" stroke="#d6e9f5" stroke-width="1.1"/>
<line x1="3715.4" y1="190.9" x2="3645.6" y2="167.1" stroke="#d6e9f5" stroke-width="1.1"/>
<line x1="3715.4" y1="190.9" x2="3669.4" y2="225.6" stroke="#d6e9f5" stroke-width="1.1"/>
<line x1="3715.4" y1="190.9" x2="3675.6" y2="233.9" stroke="#d6e9f5" stroke-width="1.1"/>
<line x1="3715.4" y1="190.9" x2="3723.2" y2="258.7" stroke="#d6e9f5" stroke-width="1.1"/>
<line x1="3715.4" y1="190.9" x2="3734.4" y2="255.9" stroke="#d6e9f5" stroke-width="1.1"/>
<line x1="3597" y1="148" x2="3626" y2="178" stroke="#d6e9f5" stroke-width="1.1"/>
<g transform="translate(3713.9,164.5) rotate(-45)">
<rect x="-18.5" y="-5.6" width="16.5" height="2.1" fill="#cfd0d9"/><rect x="2" y="-5.6" width="16.5" height="2.1" fill="#cfd0d9"/>
<rect x="-18.5" y="-2.3" width="16.5" height="2.1" fill="#cfd0d9"/><rect x="2" y="-2.3" width="16.5" height="2.1" fill="#cfd0d9"/>
<rect x="-18.5" y="1.0" width="16.5" height="2.1" fill="#cfd0d9"/><rect x="2" y="1.0" width="16.5" height="2.1" fill="#cfd0d9"/>
<rect x="-18.5" y="4.3" width="16.5" height="2.1" fill="#cfd0d9"/><rect x="2" y="4.3" width="16.5" height="2.1" fill="#cfd0d9"/>
</g>
<g transform="translate(3742.9,193.8) rotate(-45)">
<rect x="-18.5" y="-5.6" width="16.5" height="2.1" fill="#cfd0d9"/><rect x="2" y="-5.6" width="16.5" height="2.1" fill="#cfd0d9"/>
<rect x="-18.5" y="-2.3" width="16.5" height="2.1" fill="#cfd0d9"/><rect x="2" y="-2.3" width="16.5" height="2.1" fill="#cfd0d9"/>
<rect x="-18.5" y="1.0" width="16.5" height="2.1" fill="#cfd0d9"/><rect x="2" y="1.0" width="16.5" height="2.1" fill="#cfd0d9"/>
<rect x="-18.5" y="4.3" width="16.5" height="2.1" fill="#cfd0d9"/><rect x="2" y="4.3" width="16.5" height="2.1" fill="#cfd0d9"/>
</g>
<line x1="3708.5" y1="159" x2="3748.5" y2="199.5" stroke="#e6cfbf" stroke-width="1.6"/>
<g stroke="#dcdde4" stroke-width="1.5" fill="none"><path d="M3716,183 l9,-9 M3720.5,187.5 l9,-9 M3725,192 l9,-9 M3718,178.5 l9,9 M3729,170 l6,6 M3712,188.5 l7,7"/></g>
<circle cx="3735" cy="281" r="23" fill="#d5d3de"/>
<circle cx="3741" cy="279.5" r="23" fill="#fde3a3" clip-path="url(#lgSun)"/>
<use href="#wiz"/>
</g>
<circle cx="3661.5" cy="220.0" r="133.6" fill="none" stroke="#c9ccdf" stroke-width="15"/>
<use href="#wiz" clip-path="url(#lgTop)"/>
<text x="3528" y="58.7" font-size="41" font-weight="bold" textLength="265" lengthAdjust="spacingAndGlyphs" style="font-family:'Liberation Serif',serif">SAGE III • ISS</text>
<g font-size="8.8" style="fill:#dfe9f3">
<text x="3527.8" y="72" textLength="173.6" lengthAdjust="spacingAndGlyphs">Stratospheric Aerosol and Gas Experiment III</text>
<text x="3763" y="72" text-anchor="middle">International</text>
<text x="3763" y="83" text-anchor="middle">Space Station</text>
</g>
<path id="lgArc" fill="none" d="M3505.0,253.3 A160.0,160.0 0 0 0 3821.1,231.2"/>
<text font-size="17.5" font-weight="bold"><textPath href="#lgArc" startOffset="50%" text-anchor="middle" textLength="440" lengthAdjust="spacingAndGlyphs">BALL • NASA LANGLEY RESEARCH CENTER • TAS-I • ESA</textPath></text>
</g>
</svg>
</body></html>
